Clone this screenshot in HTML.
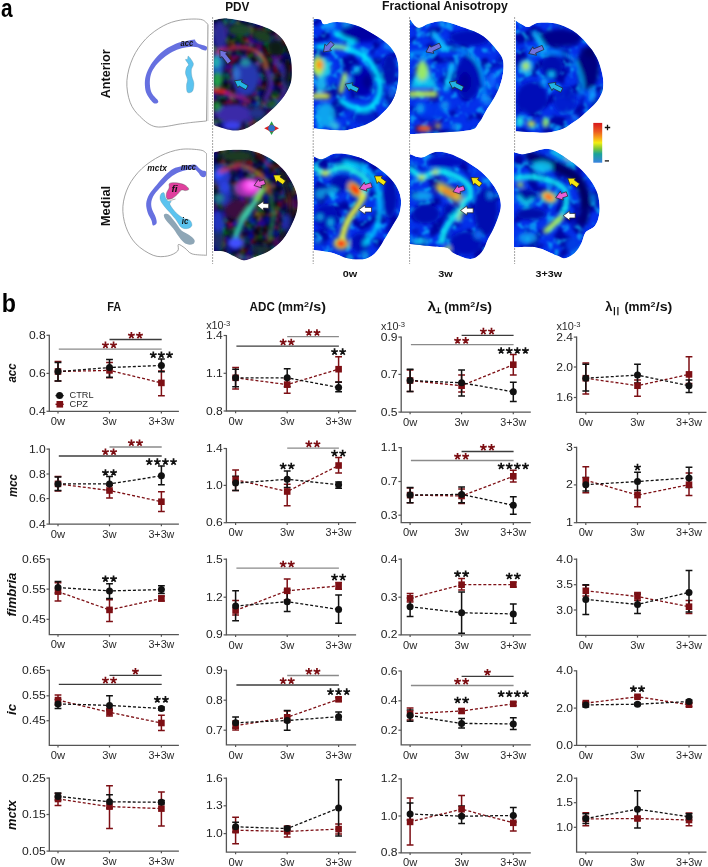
<!DOCTYPE html>
<html><head><meta charset="utf-8"><style>
html,body{margin:0;padding:0;background:#fff;width:708px;height:867px;overflow:hidden}
svg{display:block;position:absolute;left:0;top:0;will-change:transform}
</style></head><body>
<svg width="708" height="867" viewBox="0 0 708 867" font-family="Liberation Sans, sans-serif">
<defs><filter id="texc" x="0" y="0" width="100%" height="100%" color-interpolation-filters="sRGB"><feTurbulence type="fractalNoise" baseFrequency="0.13" numOctaves="3" seed="7"/><feColorMatrix type="matrix" values="0 0 0 0 0.05  0 0 0 0 0.82  0 0 0 0 1  6 0 0 0 -3.2"/><feGaussianBlur stdDeviation="0.9"/></filter><filter id="texd" x="0" y="0" width="100%" height="100%" color-interpolation-filters="sRGB"><feTurbulence type="fractalNoise" baseFrequency="0.07" numOctaves="2" seed="21"/><feColorMatrix type="matrix" values="0 0 0 0 0  0 0 0 0 0  0 0 0 0 0.6  6 0 0 0 -3.0"/><feGaussianBlur stdDeviation="1.5"/></filter><filter id="texp" x="0" y="0" width="100%" height="100%" color-interpolation-filters="sRGB"><feTurbulence type="fractalNoise" baseFrequency="0.11" numOctaves="2" seed="5"/><feColorMatrix type="matrix" values="2.2 0 0 0 -0.95  0 2.2 0 0 -0.95  0 0 2.4 0 -0.8  0 0 0 0 1"/><feGaussianBlur stdDeviation="1.1"/></filter><filter id="bl1_5" x="-20%" y="-20%" width="140%" height="140%"><feGaussianBlur stdDeviation="1.5"/></filter><filter id="bl1_6" x="-20%" y="-20%" width="140%" height="140%"><feGaussianBlur stdDeviation="1.6"/></filter><filter id="bl1_7" x="-20%" y="-20%" width="140%" height="140%"><feGaussianBlur stdDeviation="1.7"/></filter><filter id="bl1_8" x="-20%" y="-20%" width="140%" height="140%"><feGaussianBlur stdDeviation="1.8"/></filter><filter id="bl2_0" x="-20%" y="-20%" width="140%" height="140%"><feGaussianBlur stdDeviation="2.0"/></filter><filter id="bl2_2" x="-20%" y="-20%" width="140%" height="140%"><feGaussianBlur stdDeviation="2.2"/></filter><filter id="bl2_5" x="-20%" y="-20%" width="140%" height="140%"><feGaussianBlur stdDeviation="2.5"/></filter><filter id="bl3_0" x="-20%" y="-20%" width="140%" height="140%"><feGaussianBlur stdDeviation="3.0"/></filter><clipPath id="pa"><path d="M213.8 20.2C216.08 19.9 221.85 18.1 227.5 18.4C233.15 18.7 241.95 20.73 247.7 22C253.45 23.27 257.78 24.5 262 26C266.22 27.5 269.75 29 273 31C276.25 33 279.17 35.33 281.5 38C283.83 40.67 285.5 43.83 287 47C288.5 50.17 289.7 53.5 290.5 57C291.3 60.5 291.73 63.73 291.8 68C291.87 72.27 292.12 78.02 290.9 82.6C289.68 87.18 287.42 91.22 284.5 95.5C281.58 99.78 277.38 104.32 273.4 108.3C269.42 112.28 265.18 116.03 260.6 119.4C256.02 122.77 250.5 126.67 245.9 128.5C241.3 130.33 237.58 130.7 233 130.4C228.42 130.1 221.6 127.62 218.4 126.7C215.2 125.78 214.57 125.2 213.8 124.9Z"/></clipPath><clipPath id="pm"><path d="M214 152.4C216.38 152.02 222.03 150.35 228.3 150.1C234.57 149.85 244.6 149.48 251.6 150.9C258.6 152.32 264.6 154.98 270.3 158.6C276 162.22 281.53 167.15 285.8 172.6C290.07 178.05 293.97 185.33 295.9 191.3C297.83 197.27 298.05 202.97 297.4 208.4C296.75 213.83 294.45 218.73 292 223.9C289.55 229.07 286.32 235 282.7 239.4C279.08 243.8 274.7 247.45 270.3 250.3C265.9 253.15 260.72 254.82 256.3 256.5C251.88 258.18 247.68 260.52 243.8 260.4C239.92 260.28 236.37 257.27 233 255.8C229.63 254.33 226.77 252.38 223.6 251.6C220.43 250.82 215.6 251.18 214 251.1Z"/></clipPath><clipPath id="fa1"><path d="M313.7 19C314.83 19.12 318.75 18.83 320.5 19.7C322.25 20.57 321.45 23.82 324.2 24.2C326.95 24.58 331.87 21.87 337 22C342.13 22.13 349 23 355 25C361 27 367.5 30.75 373 34C378.5 37.25 384.13 40.75 388 44.5C391.87 48.25 394.45 52.25 396.2 56.5C397.95 60.75 398.37 64.75 398.5 70C398.63 75.25 398.25 82.5 397 88C395.75 93.5 393.75 98.5 391 103C388.25 107.5 384.5 111.5 380.5 115C376.5 118.5 372.5 121.5 367 124C361.5 126.5 353.25 129 347.5 130C341.75 131 338.13 130.27 332.5 130C326.87 129.73 316.83 128.67 313.7 128.4Z"/></clipPath><clipPath id="fa2"><path d="M410 19.3C411.33 20.72 414.78 27.1 418 27.8C421.22 28.5 425.05 24.57 429.3 23.5C433.55 22.43 437.6 20.68 443.5 21.4C449.4 22.12 458.08 25.32 464.7 27.8C471.32 30.28 477.98 32.77 483.2 36.3C488.42 39.83 492.7 44.98 496 49C499.3 53.02 501.95 55.67 503 60.4C504.05 65.13 503.47 71.73 502.3 77.4C501.13 83.07 498.48 89.2 496 94.4C493.52 99.6 490.23 103.87 487.4 108.6C484.57 113.33 481.83 119.23 479 122.8C476.17 126.37 477.5 128.35 470.4 130C463.3 131.65 446.47 132.02 436.4 132.7C426.33 133.38 414.4 133.87 410 134.1Z"/></clipPath><clipPath id="fa3"><path d="M515.8 20.7C517 21.42 520.87 23.95 523 25C525.13 26.05 526.02 27.37 528.6 27C531.18 26.63 534 23.38 538.5 22.8C543 22.22 549.92 22.2 555.6 23.5C561.28 24.8 567.4 27.28 572.6 30.6C577.8 33.92 582.78 38.9 586.8 43.4C590.82 47.9 594.1 52.4 596.7 57.6C599.3 62.8 601.35 69.4 602.4 74.6C603.45 79.8 603.73 84.57 603 88.8C602.27 93.03 600.7 96.22 598 100C595.3 103.78 591.03 107.7 586.8 111.5C582.57 115.3 577.1 119.72 572.6 122.8C568.1 125.88 565 128.35 559.8 130C554.6 131.65 548.73 132.48 541.4 132.7C534.07 132.92 520.07 131.53 515.8 131.3Z"/></clipPath><clipPath id="fm1"><path d="M314 156.6C315 157.05 318.12 159.07 320 159.3C321.88 159.53 323.1 158.88 325.3 158C327.5 157.12 329.9 154.67 333.2 154C336.5 153.33 340.9 153.45 345.1 154C349.3 154.55 353.97 155.65 358.4 157.3C362.83 158.95 367.27 161.25 371.7 163.9C376.13 166.55 381.03 169.67 385 173.2C388.97 176.73 392.87 180.9 395.5 185.1C398.13 189.3 400.13 193.75 400.8 198.4C401.47 203.05 400.82 208.58 399.5 213C398.18 217.42 395.55 220.27 392.9 224.9C390.25 229.53 386.7 235.95 383.6 240.8C380.5 245.65 377.83 250.9 374.3 254C370.77 257.1 367.03 258.73 362.4 259.4C357.77 260.07 351.58 259.12 346.5 258C341.42 256.88 337.32 254.03 331.9 252.7C326.48 251.37 316.98 250.45 314 250Z"/></clipPath><clipPath id="fm2"><path d="M410 154.2C411.25 154.65 415.12 156.45 417.5 156.9C419.88 157.35 421.35 157.7 424.3 156.9C427.25 156.1 431.12 152.67 435.2 152.1C439.28 151.53 443.8 152.02 448.8 153.5C453.8 154.98 459.75 157.93 465.2 161C470.65 164.07 476.97 168.05 481.5 171.9C486.03 175.75 489.45 180.02 492.4 184.1C495.35 188.18 497.83 192.32 499.2 196.4C500.57 200.48 501.28 203.83 500.6 208.6C499.92 213.37 497.15 220 495.1 225C493.05 230 490.57 234.07 488.3 238.6C486.03 243.13 484.45 248.8 481.5 252.2C478.55 255.6 475.13 258.78 470.6 259C466.07 259.22 458.15 255.32 454.3 253.5C450.45 251.68 450.68 249.23 447.5 248.1C444.32 246.97 441.45 247.38 435.2 246.7C428.95 246.02 414.2 244.45 410 244Z"/></clipPath><clipPath id="fm3"><path d="M514 152.2C515.48 152.53 519.83 154.2 522.9 154.2C525.97 154.2 528.55 153.1 532.4 152.2C536.25 151.3 541.92 148.8 546 148.8C550.08 148.8 552.37 149.83 556.9 152.2C561.43 154.57 568.43 159.37 573.2 163C577.97 166.63 581.87 169.92 585.5 174C589.13 178.08 592.73 182.97 595 187.5C597.27 192.03 598.42 196.65 599.1 201.2C599.78 205.75 599.78 210.72 599.1 214.8C598.42 218.88 597.27 222.75 595 225.7C592.73 228.65 587.77 229.57 585.5 232.5C583.23 235.43 583.22 239.9 581.4 243.3C579.58 246.7 577.32 250.4 574.6 252.9C571.88 255.4 568.05 257.85 565.1 258.3C562.15 258.75 561.67 257.42 556.9 255.6C552.13 253.78 543.65 248.77 536.5 247.4C529.35 246.03 517.75 247.4 514 247.4Z"/></clipPath></defs>
<path d="M207.9 24.4C206.7 23.57 205.27 20.12 200.7 19.4C196.13 18.68 186.75 19.02 180.5 20.1C174.25 21.18 168.97 22.78 163.2 25.9C157.43 29.02 150.93 33.52 145.9 38.8C140.87 44.08 136.17 50.63 133 57.6C129.83 64.57 127.38 73.15 126.9 80.6C126.42 88.05 127.88 96.28 130.1 102.3C132.32 108.32 135.88 112.62 140.2 116.7C144.52 120.78 149.28 125.6 156 126.8C162.72 128 174.48 124.63 180.5 123.9C186.52 123.17 187.77 122.88 192.1 122.4C196.43 121.92 204.1 121.23 206.5 121Z" fill="#fff" stroke="#8c8c8c" stroke-width="0.8"/>
<path d="M207.9 24.4V121" stroke="#bdbdbd" stroke-width="0.8"/>
<path d="M194.4 39.4C192.92 39.4 189.3 40.32 186.5 40.9C183.7 41.48 180.73 41.75 177.6 42.9C174.47 44.05 170.83 45.83 167.7 47.8C164.57 49.77 161.6 51.9 158.8 54.7C156 57.5 153.05 61.13 150.9 64.6C148.75 68.07 146.9 72.03 145.9 75.5C144.9 78.97 144.73 82.27 144.9 85.4C145.07 88.53 145.42 91.33 146.9 94.3C148.38 97.27 151.9 102.05 153.8 103.2C155.7 104.35 158.62 102.85 158.3 101.2C157.98 99.55 153.3 96.1 151.9 93.3C150.5 90.5 150.07 87.53 149.9 84.4C149.73 81.27 149.92 77.63 150.9 74.5C151.88 71.37 153.67 68.4 155.8 65.6C157.93 62.8 160.9 60 163.7 57.7C166.5 55.4 169.63 53.37 172.6 51.8C175.57 50.23 178.37 49.13 181.5 48.3C184.63 47.47 188.75 46.97 191.4 46.8C194.05 46.63 195.58 46.8 197.4 47.3C199.22 47.8 200.82 49.3 202.3 49.8C203.78 50.3 205.55 50.8 206.3 50.3C207.05 49.8 207.3 47.63 206.8 46.8C206.3 45.97 204.7 45.8 203.3 45.3C201.9 44.8 199.72 44.53 198.4 43.8C197.08 43.07 196.07 41.63 195.4 40.9C194.73 40.17 195.88 39.4 194.4 39.4Z" fill="#6670e0"/>
<path d="M188.5 56.2C189.48 56.93 192.92 61.37 193.4 63.6C193.88 65.83 191.65 67.45 191.4 69.6C191.15 71.75 191.48 74.2 191.9 76.5C192.32 78.8 193.82 80.93 193.9 83.4C193.98 85.87 193.47 89.82 192.4 91.3C191.33 92.78 188.48 93.28 187.5 92.3C186.52 91.32 186.5 87.53 186.5 85.4C186.5 83.27 187.67 81.48 187.5 79.5C187.33 77.52 185.67 75.48 185.5 73.5C185.33 71.52 186 69.08 186.5 67.6C187 66.12 188.67 65.92 188.5 64.6C188.33 63.28 185.67 60.6 185.5 59.7C185.33 58.8 187 59.78 187.5 59.2C188 58.62 187.52 55.47 188.5 56.2Z" fill="#5bc3ef" stroke="#5a8aa0" stroke-width="0.3"/>
<text x="180.6" y="45.8" font-size="8.4" font-weight="bold" font-style="italic" fill="#111" textLength="12.8" lengthAdjust="spacingAndGlyphs">acc</text>
<path d="M206.5 153.7C205.53 153.1 205.03 150.82 200.7 150.1C196.37 149.38 187.22 148.43 180.5 149.4C173.78 150.37 166.88 152.67 160.4 155.9C153.92 159.13 146.9 163.77 141.6 168.8C136.3 173.83 131.72 179.85 128.6 186.1C125.48 192.35 123.37 199.57 122.9 206.3C122.43 213.03 123.63 220.25 125.8 226.5C127.97 232.75 131.33 239 135.9 243.8C140.47 248.6 147.92 253.27 153.2 255.3C158.48 257.33 163.52 256.72 167.6 256C171.68 255.28 175.9 252.92 177.7 251C179.5 249.08 177.2 244.98 178.4 244.5C179.6 244.02 182.62 246.53 184.9 248.1C187.18 249.67 188.5 252.7 192.1 253.9C195.7 255.1 204.1 255.07 206.5 255.3Z" fill="#fff" stroke="#8c8c8c" stroke-width="0.8"/>
<path d="M206.5 153.7V255.3" stroke="#bdbdbd" stroke-width="0.8"/>
<path d="M191.9 164.7C189.47 164.87 184.62 165.52 181.5 166.2C178.38 166.88 175.97 167.23 173.2 168.8C170.43 170.37 167.67 172.92 164.9 175.6C162.13 178.28 159.2 181.78 156.6 184.9C154 188.02 151.03 191.18 149.3 194.3C147.57 197.42 146.45 200.48 146.2 203.6C145.95 206.72 146.93 210.23 147.8 213C148.67 215.77 150.53 218.13 151.4 220.2C152.27 222.27 152.13 224.88 153 225.4C153.87 225.92 156.17 224.68 156.6 223.3C157.03 221.92 156.38 219.52 155.6 217.1C154.82 214.68 152.6 211.4 151.9 208.8C151.2 206.2 150.97 203.92 151.4 201.5C151.83 199.08 152.77 196.88 154.5 194.3C156.23 191.72 159.2 188.77 161.8 186C164.4 183.23 167.33 179.95 170.1 177.7C172.87 175.45 175.63 173.8 178.4 172.5C181.17 171.2 184.1 170.43 186.7 169.9C189.3 169.37 192.08 168.87 194 169.3C195.92 169.73 196.98 171.28 198.2 172.5C199.42 173.72 200.1 175.92 201.3 176.6C202.5 177.28 204.63 177.47 205.4 176.6C206.17 175.73 206.42 172.43 205.9 171.4C205.38 170.37 203.42 170.92 202.3 170.4C201.18 169.88 200.23 169.17 199.2 168.3C198.17 167.43 197.32 165.8 196.1 165.2C194.88 164.6 194.33 164.53 191.9 164.7Z" fill="#6670e0"/>
<path d="M164.9 214C165.77 213.82 167.37 213.62 169.1 215C170.83 216.38 173.23 219.7 175.3 222.3C177.37 224.9 179.25 228.52 181.5 230.6C183.75 232.68 186.63 233.23 188.8 234.8C190.97 236.37 193.8 238.45 194.5 240C195.2 241.55 194.3 243.42 193 244.1C191.7 244.78 188.78 244.97 186.7 244.1C184.62 243.23 182.75 241.5 180.5 238.9C178.25 236.3 175.62 231.62 173.2 228.5C170.78 225.38 167.55 222.27 166 220.2C164.45 218.13 164.08 217.13 163.9 216.1C163.72 215.07 164.03 214.18 164.9 214Z" fill="#8ea6b6"/>
<path d="M160.8 194.3C161.42 193.17 163.13 192.18 163.9 192.7C164.67 193.22 164.72 196.02 165.4 197.4C166.08 198.78 167.03 200.32 168 201C168.97 201.68 170.85 200.88 171.2 201.5C171.55 202.12 169.25 202.78 170.1 204.7C170.95 206.62 174.05 210.75 176.3 213C178.55 215.25 181.35 217 183.6 218.2C185.85 219.4 188.42 219 189.8 220.2C191.18 221.4 192.23 224.02 191.9 225.4C191.57 226.78 189.53 228.15 187.8 228.5C186.07 228.85 183.42 228.88 181.5 227.5C179.58 226.12 178.02 222.45 176.3 220.2C174.58 217.95 173.27 216.42 171.2 214C169.13 211.58 165.73 208.12 163.9 205.7C162.07 203.28 160.72 201.4 160.2 199.5C159.68 197.6 160.18 195.43 160.8 194.3Z" fill="#5bc3ef" stroke="#5a8aa0" stroke-width="0.3"/>
<path d="M169.6 183.4C170.8 182.53 173.78 182.55 176.3 182.8C178.82 183.05 182.62 183.85 184.7 184.9C186.78 185.95 188.63 188.15 188.8 189.1C188.97 190.05 186.92 190.43 185.7 190.6C184.48 190.77 182.88 189.48 181.5 190.1C180.12 190.72 178.95 192.92 177.4 194.3C175.85 195.68 173.93 197.72 172.2 198.4C170.47 199.08 167.95 199.27 167 198.4C166.05 197.53 166.15 194.93 166.5 193.2C166.85 191.47 168.58 189.63 169.1 188C169.62 186.37 168.4 184.27 169.6 183.4Z" fill="#e0409e" stroke="#555" stroke-width="0.4"/>
<path d="M166.5 199.2 Q171 201.5 175.5 199" stroke="#666" stroke-width="0.5" fill="none"/>
<text x="147.3" y="171.4" font-size="8.8" font-weight="bold" font-style="italic" fill="#111" textLength="19.6" lengthAdjust="spacingAndGlyphs">mctx</text>
<text x="181" y="170.4" font-size="8.8" font-weight="bold" font-style="italic" fill="#111" textLength="15" lengthAdjust="spacingAndGlyphs">mcc</text>
<text x="171.4" y="192.2" font-size="9.5" font-weight="bold" font-style="italic" fill="#111" textLength="6.2" lengthAdjust="spacingAndGlyphs">fi</text>
<text x="181.8" y="223.9" font-size="9" font-weight="bold" font-style="italic" fill="#111" textLength="6.6" lengthAdjust="spacingAndGlyphs">ic</text>
<path d="M212.6 17V138.5" stroke="#9a9a9a" stroke-width="0.9" stroke-dasharray="2 1"/>
<path d="M212.6 140V264" stroke="#9a9a9a" stroke-width="0.9" stroke-dasharray="2 1"/>
<path d="M313.2 17V138.5" stroke="#9a9a9a" stroke-width="0.9" stroke-dasharray="2 1"/>
<path d="M313.2 140V264" stroke="#9a9a9a" stroke-width="0.9" stroke-dasharray="2 1"/>
<path d="M409.6 17V138.5" stroke="#9a9a9a" stroke-width="0.9" stroke-dasharray="2 1"/>
<path d="M409.6 140V264" stroke="#9a9a9a" stroke-width="0.9" stroke-dasharray="2 1"/>
<path d="M514.6 17V138.5" stroke="#9a9a9a" stroke-width="0.9" stroke-dasharray="2 1"/>
<path d="M514.6 140V264" stroke="#9a9a9a" stroke-width="0.9" stroke-dasharray="2 1"/>
<g clip-path="url(#pa)">
<path d="M213.8 20.2C216.08 19.9 221.85 18.1 227.5 18.4C233.15 18.7 241.95 20.73 247.7 22C253.45 23.27 257.78 24.5 262 26C266.22 27.5 269.75 29 273 31C276.25 33 279.17 35.33 281.5 38C283.83 40.67 285.5 43.83 287 47C288.5 50.17 289.7 53.5 290.5 57C291.3 60.5 291.73 63.73 291.8 68C291.87 72.27 292.12 78.02 290.9 82.6C289.68 87.18 287.42 91.22 284.5 95.5C281.58 99.78 277.38 104.32 273.4 108.3C269.42 112.28 265.18 116.03 260.6 119.4C256.02 122.77 250.5 126.67 245.9 128.5C241.3 130.33 237.58 130.7 233 130.4C228.42 130.1 221.6 127.62 218.4 126.7C215.2 125.78 214.57 125.2 213.8 124.9Z" fill="#0e0c2c"/>
<rect x="213.8" y="18.4" width="78" height="112" filter="url(#texp)" opacity="0.45"/>
<g filter="url(#bl2_0)">
<ellipse cx="220" cy="35" rx="7" ry="14" fill="#2a2a98" opacity="1" transform="rotate(0 220 35)"/>
<ellipse cx="240" cy="30" rx="12" ry="6" fill="#1a4a2a" opacity="1" transform="rotate(0 240 30)"/>
<ellipse cx="262" cy="36" rx="10" ry="6" fill="#1a4024" opacity="1" transform="rotate(20 262 36)"/>
<ellipse cx="276" cy="48" rx="8" ry="8" fill="#101a18" opacity="1" transform="rotate(0 276 48)"/>
<ellipse cx="218" cy="65" rx="6" ry="16" fill="#2050c0" opacity="1" transform="rotate(0 218 65)"/>
<ellipse cx="216" cy="62" rx="4" ry="6" fill="#20b0b0" opacity="1" transform="rotate(0 216 62)"/>
<ellipse cx="217.4" cy="80" rx="5" ry="8" fill="#20a048" opacity="1" transform="rotate(0 217.4 80)"/>
<ellipse cx="246" cy="78" rx="13" ry="18" fill="#2838b0" opacity="1" transform="rotate(0 246 78)"/>
<ellipse cx="245.4" cy="62" rx="5" ry="4" fill="#2090a0" opacity="1" transform="rotate(0 245.4 62)"/>
<ellipse cx="236" cy="74" rx="4" ry="7" fill="#3070d0" opacity="1" transform="rotate(0 236 74)"/>
<path d="M217 52C220.17 51.25 230.23 48 236 47.5C241.77 47 247.18 47.48 251.6 49C256.02 50.52 259.93 53.77 262.5 56.6C265.07 59.43 266.25 64.43 267 66" stroke="#d83040" stroke-width="3.0" fill="none" opacity="1" stroke-linecap="round"/>
<path d="M256 52C257.33 53.33 262 57 264 60C266 63 267.33 68.33 268 70" stroke="#d0a040" stroke-width="2.2" fill="none" opacity="0.8" stroke-linecap="round"/>
<path d="M268 70C268.5 72.33 271.33 79 271 84C270.67 89 266.83 97.33 266 100" stroke="#5a30c0" stroke-width="3.2" fill="none" opacity="1" stroke-linecap="round"/>
<path d="M276 60C277.5 62.67 283.67 70.33 285 76C286.33 81.67 285.83 88.67 284 94C282.17 99.33 275.67 105.67 274 108" stroke="#3a2ab0" stroke-width="4.0" fill="none" opacity="1" stroke-linecap="round"/>
<path d="M262 66C263 69 268 78.33 268 84C268 89.67 263 97.33 262 100" stroke="#0a0a20" stroke-width="4.0" fill="none" opacity="1" stroke-linecap="round"/>
<path d="M213.5 91C215.58 91.17 223.92 91.83 226 92" stroke="#e82020" stroke-width="4.5" fill="none" opacity="1" stroke-linecap="round"/>
<path d="M226 93C228 93.67 234.17 95.67 238 97C241.83 98.33 247.17 100.33 249 101" stroke="#b02080" stroke-width="3.2" fill="none" opacity="1" stroke-linecap="round"/>
<ellipse cx="234" cy="114" rx="18" ry="10" fill="#3a2aa8" opacity="1" transform="rotate(0 234 114)"/>
<ellipse cx="232" cy="126" rx="10" ry="4" fill="#3a40f0" opacity="1" transform="rotate(0 232 126)"/>
<ellipse cx="217" cy="106" rx="4" ry="5" fill="#209040" opacity="1" transform="rotate(0 217 106)"/>
<ellipse cx="272" cy="104" rx="6" ry="4" fill="#1a5a28" opacity="1" transform="rotate(0 272 104)"/>
<ellipse cx="257" cy="113" rx="8" ry="6" fill="#20308a" opacity="1" transform="rotate(0 257 113)"/>
<ellipse cx="287" cy="72" rx="3" ry="16" fill="#0a0a18" opacity="1" transform="rotate(0 287 72)"/>
</g></g>
<polygon points="219.8,50 220.15,57.96 221.97,56.55 227.68,63.91 231.32,61.09 225.6,53.73 227.42,52.32" fill="#6f72de" stroke="#222" stroke-width="0.7" stroke-linejoin="miter"/>
<polygon points="234.5,80.7 237.92,87.89 239.05,85.88 245.88,89.71 248.12,85.69 241.3,81.87 242.42,79.86" fill="#22b4e6" stroke="#222" stroke-width="0.7" stroke-linejoin="miter"/>
<polygon points="271.6,121.3 275.4,128.3 271.6,135 267.8,128.3" fill="#1fa04a"/>
<polygon points="264.2,128.3 271.6,124.4 279,128.3 271.6,132.2" fill="#d82222"/>
<circle cx="271.6" cy="128.3" r="3.3" fill="#2b72c8"/>
<g clip-path="url(#pm)">
<path d="M214 152.4C216.38 152.02 222.03 150.35 228.3 150.1C234.57 149.85 244.6 149.48 251.6 150.9C258.6 152.32 264.6 154.98 270.3 158.6C276 162.22 281.53 167.15 285.8 172.6C290.07 178.05 293.97 185.33 295.9 191.3C297.83 197.27 298.05 202.97 297.4 208.4C296.75 213.83 294.45 218.73 292 223.9C289.55 229.07 286.32 235 282.7 239.4C279.08 243.8 274.7 247.45 270.3 250.3C265.9 253.15 260.72 254.82 256.3 256.5C251.88 258.18 247.68 260.52 243.8 260.4C239.92 260.28 236.37 257.27 233 255.8C229.63 254.33 226.77 252.38 223.6 251.6C220.43 250.82 215.6 251.18 214 251.1Z" fill="#0e0c2c"/>
<rect x="214" y="150.1" width="83.4" height="110.3" filter="url(#texp)" opacity="0.45"/>
<g filter="url(#bl2_0)">
<ellipse cx="237" cy="156" rx="16" ry="6" fill="#1a3a22" opacity="1" transform="rotate(0 237 156)"/>
<ellipse cx="222" cy="176" rx="9" ry="10" fill="#2638c8" opacity="1" transform="rotate(0 222 176)"/>
<ellipse cx="228" cy="200" rx="8" ry="9" fill="#2030b0" opacity="1" transform="rotate(0 228 200)"/>
<ellipse cx="218" cy="222" rx="6" ry="12" fill="#2434c0" opacity="1" transform="rotate(0 218 222)"/>
<ellipse cx="234" cy="198" rx="4" ry="5" fill="#101a50" opacity="1" transform="rotate(0 234 198)"/>
<ellipse cx="218.6" cy="174" rx="5" ry="5" fill="#2a50ff" opacity="1" transform="rotate(0 218.6 174)"/>
<ellipse cx="225" cy="187.5" rx="6" ry="6" fill="#2a40e0" opacity="1" transform="rotate(0 225 187.5)"/>
<ellipse cx="218.6" cy="198" rx="5" ry="5" fill="#208090" opacity="1" transform="rotate(0 218.6 198)"/>
<ellipse cx="238" cy="187.5" rx="5" ry="5" fill="#2070a0" opacity="1" transform="rotate(0 238 187.5)"/>
<ellipse cx="237" cy="210" rx="13" ry="10" fill="#3a1040" opacity="1" transform="rotate(0 237 210)"/>
<path d="M220 171.7C223.05 170.58 233.05 165.45 238.3 165C243.55 164.55 247.98 167.45 251.5 169C255.02 170.55 256.98 172.13 259.4 174.3C261.82 176.47 264.23 178.93 266 182C267.77 185.07 269.33 190.92 270 192.7" stroke="#d04030" stroke-width="2.8" fill="none" opacity="1" stroke-linecap="round"/>
<path d="M250 168C251.57 169.05 256.73 171.97 259.4 174.3C262.07 176.63 264.9 180.72 266 182" stroke="#d0b040" stroke-width="2.0" fill="none" opacity="0.8" stroke-linecap="round"/>
<ellipse cx="248" cy="188" rx="13" ry="10" fill="#a030b0" opacity="1" transform="rotate(0 248 188)"/>
<ellipse cx="251" cy="186" rx="9" ry="7" fill="#f040e0" opacity="1" transform="rotate(0 251 186)"/>
<ellipse cx="252" cy="185" rx="5" ry="4" fill="#ff70ff" opacity="1" transform="rotate(0 252 185)"/>
<path d="M263 190C261.08 192.83 254.95 201.93 251.5 207C248.05 212.07 244.93 215.57 242.3 220.4C239.67 225.23 236.8 233.4 235.7 236" stroke="#30c8a8" stroke-width="5.5" fill="none" opacity="1" stroke-linecap="round"/>
<path d="M262 192C260.33 194.33 255 201.67 252 206C249 210.33 245.33 216 244 218" stroke="#50e0b0" stroke-width="2.5" fill="none" opacity="1" stroke-linecap="round"/>
<path d="M264 189C262.83 190.67 258.17 197.33 257 199" stroke="#80e040" stroke-width="4.0" fill="none" opacity="1" stroke-linecap="round"/>
<path d="M270 194C270.5 197.5 273 207.33 273 215C273 222.67 270.5 235.83 270 240" stroke="#208040" stroke-width="3.5" fill="none" opacity="0.9" stroke-linecap="round"/>
<ellipse cx="235.7" cy="243" rx="8" ry="6" fill="#4050ff" opacity="1" transform="rotate(0 235.7 243)"/>
<path d="M282 172C283.33 176.67 289 191.17 290 200C291 208.83 289.67 218.33 288 225C286.33 231.67 281.33 237.5 280 240" stroke="#141428" stroke-width="6.0" fill="none" opacity="1" stroke-linecap="round"/>
<ellipse cx="289.6" cy="200.6" rx="2" ry="8" fill="#6a1a20" opacity="0.8" transform="rotate(0 289.6 200.6)"/>
<ellipse cx="286" cy="222" rx="4" ry="8" fill="#2030c0" opacity="0.8" transform="rotate(0 286 222)"/>
<ellipse cx="260" cy="250" rx="10" ry="5" fill="#1a3030" opacity="0.8" transform="rotate(0 260 250)"/>
<ellipse cx="218" cy="240" rx="6" ry="10" fill="#1a3070" opacity="0.9" transform="rotate(0 218 240)"/>
</g></g>
<polygon points="254,185.5 261.6,187.87 260.89,185.68 265.51,184.19 264.09,179.81 259.47,181.31 258.77,179.12" fill="#e95fd6" stroke="#222" stroke-width="0.7" stroke-linejoin="miter"/>
<polygon points="273.4,175 276.02,182.52 277.36,180.65 282.86,184.57 285.54,180.83 280.03,176.9 281.36,175.03" fill="#f5e60f" stroke="#222" stroke-width="0.7" stroke-linejoin="miter"/>
<polygon points="257,205.6 263.34,210.42 263.42,208.12 268.62,208.3 268.78,203.7 263.57,203.52 263.65,201.22" fill="#ffffff" stroke="#222" stroke-width="0.7" stroke-linejoin="miter"/>
<g clip-path="url(#fa1)">
<path d="M313.7 19C314.83 19.12 318.75 18.83 320.5 19.7C322.25 20.57 321.45 23.82 324.2 24.2C326.95 24.58 331.87 21.87 337 22C342.13 22.13 349 23 355 25C361 27 367.5 30.75 373 34C378.5 37.25 384.13 40.75 388 44.5C391.87 48.25 394.45 52.25 396.2 56.5C397.95 60.75 398.37 64.75 398.5 70C398.63 75.25 398.25 82.5 397 88C395.75 93.5 393.75 98.5 391 103C388.25 107.5 384.5 111.5 380.5 115C376.5 118.5 372.5 121.5 367 124C361.5 126.5 353.25 129 347.5 130C341.75 131 338.13 130.27 332.5 130C326.87 129.73 316.83 128.67 313.7 128.4Z" fill="#0430ea"/>
<rect x="313.7" y="19" width="84.8" height="111" filter="url(#texd)" opacity="0.9"/>
<rect x="313.7" y="19" width="84.8" height="111" filter="url(#texc)" opacity="0.6"/>
<g filter="url(#bl2_2)">
<ellipse cx="330" cy="25" rx="6" ry="5" fill="#10a0ff" opacity="0.9" transform="rotate(0 330 25)"/>
<ellipse cx="346" cy="24" rx="5" ry="4" fill="#10b0ff" opacity="0.8" transform="rotate(0 346 24)"/>
<ellipse cx="365" cy="35" rx="16" ry="8" fill="#0008b8" opacity="1" transform="rotate(0 365 35)"/>
<path d="M335.5 33C338.5 34.62 350.5 41.08 353.5 42.7" stroke="#00e8ff" stroke-width="5.25" fill="none" opacity="1" stroke-linecap="round"/>
<path d="M318 47C319.77 46.97 324.98 46.83 328.6 46.8C332.22 46.77 335.55 46.1 339.7 46.8C343.85 47.5 349.35 49.38 353.5 51C357.65 52.62 361.35 53.97 364.6 56.5C367.85 59.03 370.68 62.73 373 66.2C375.32 69.67 377.37 72.92 378.5 77.3C379.63 81.68 380.5 88.12 379.8 92.5C379.1 96.88 376.83 100.82 374.3 103.6C371.77 106.38 368.52 108.73 364.6 109.2C360.68 109.67 354.73 107.8 350.8 106.4C346.87 105 342.63 101.73 341 100.8" stroke="#00f0ff" stroke-width="5.1" fill="none" opacity="1" stroke-linecap="round"/>
<path d="M332 46.5C334.17 46.67 342.83 47.33 345 47.5" stroke="#c8f040" stroke-width="3.75" fill="none" opacity="0.8" stroke-linecap="round"/>
<ellipse cx="362" cy="82" rx="11" ry="15" fill="#0000b0" opacity="1" transform="rotate(0 362 82)"/>
<ellipse cx="367.4" cy="81.5" rx="5" ry="7" fill="#000090" opacity="1" transform="rotate(0 367.4 81.5)"/>
<ellipse cx="356.3" cy="69" rx="3" ry="3" fill="#10d0ff" opacity="1" transform="rotate(0 356.3 69)"/>
<ellipse cx="349.4" cy="80" rx="2.5" ry="3" fill="#10c0ff" opacity="0.8" transform="rotate(0 349.4 80)"/>
<path d="M345.2 74.5C344.5 77.28 341.7 88.42 341 91.2" stroke="#b8f050" stroke-width="4.5" fill="none" opacity="1" stroke-linecap="round"/>
<ellipse cx="322" cy="68" rx="9" ry="11" fill="#20d8e0" opacity="0.85" transform="rotate(0 322 68)"/>
<ellipse cx="318" cy="66" rx="6" ry="10" fill="#b0f050" opacity="1" transform="rotate(0 318 66)"/>
<ellipse cx="319.5" cy="64.8" rx="3.5" ry="5" fill="#ff8a00" opacity="1" transform="rotate(0 319.5 64.8)"/>
<ellipse cx="321" cy="85" rx="6" ry="8" fill="#20d0f0" opacity="0.8" transform="rotate(0 321 85)"/>
<path d="M314 96C316.25 96 325.25 96 327.5 96" stroke="#d8f040" stroke-width="5.25" fill="none" opacity="1" stroke-linecap="round"/>
<ellipse cx="326" cy="115" rx="10" ry="12" fill="#10c0f0" opacity="0.8" transform="rotate(0 326 115)"/>
<ellipse cx="335" cy="126" rx="5" ry="4" fill="#40e0e0" opacity="0.8" transform="rotate(0 335 126)"/>
<ellipse cx="389.5" cy="70.4" rx="7" ry="16" fill="#0008a8" opacity="0.9" transform="rotate(0 389.5 70.4)"/>
<ellipse cx="362" cy="32" rx="22" ry="8" fill="#0000a0" opacity="0.9" transform="rotate(0 362 32)"/>
<ellipse cx="392" cy="100" rx="6" ry="8" fill="#0010b0" opacity="0.8" transform="rotate(0 392 100)"/>
<ellipse cx="366" cy="118" rx="12" ry="7" fill="#0018c0" opacity="0.8" transform="rotate(0 366 118)"/>
<ellipse cx="388" cy="45" rx="5" ry="4" fill="#10a0ff" opacity="0.6" transform="rotate(0 388 45)"/>
<ellipse cx="392" cy="92" rx="4" ry="6" fill="#1080ff" opacity="0.7" transform="rotate(0 392 92)"/>
</g></g>
<polygon points="323.5,52 331.35,50.66 329.72,49.03 334.13,44.63 330.87,41.37 326.47,45.78 324.84,44.15" fill="#6f72de" stroke="#222" stroke-width="0.7" stroke-linejoin="miter"/>
<polygon points="345.2,84.2 349.13,91.12 350.11,89.04 357.02,92.28 358.98,88.12 352.06,84.88 353.04,82.79" fill="#22b4e6" stroke="#222" stroke-width="0.7" stroke-linejoin="miter"/>
<g clip-path="url(#fa2)">
<path d="M410 19.3C411.33 20.72 414.78 27.1 418 27.8C421.22 28.5 425.05 24.57 429.3 23.5C433.55 22.43 437.6 20.68 443.5 21.4C449.4 22.12 458.08 25.32 464.7 27.8C471.32 30.28 477.98 32.77 483.2 36.3C488.42 39.83 492.7 44.98 496 49C499.3 53.02 501.95 55.67 503 60.4C504.05 65.13 503.47 71.73 502.3 77.4C501.13 83.07 498.48 89.2 496 94.4C493.52 99.6 490.23 103.87 487.4 108.6C484.57 113.33 481.83 119.23 479 122.8C476.17 126.37 477.5 128.35 470.4 130C463.3 131.65 446.47 132.02 436.4 132.7C426.33 133.38 414.4 133.87 410 134.1Z" fill="#0430ea"/>
<rect x="410" y="19.3" width="93" height="114.8" filter="url(#texd)" opacity="0.9"/>
<rect x="410" y="19.3" width="93" height="114.8" filter="url(#texc)" opacity="0.6"/>
<g filter="url(#bl2_2)">
<ellipse cx="470" cy="38" rx="20" ry="8" fill="#0008b8" opacity="1" transform="rotate(0 470 38)"/>
<ellipse cx="468" cy="78" rx="13" ry="22" fill="#0008b8" opacity="1" transform="rotate(0 468 78)"/>
<ellipse cx="465" cy="82" rx="6" ry="10" fill="#00009c" opacity="1" transform="rotate(0 465 82)"/>
<path d="M410.8 53.3C413.4 53.07 420.95 52.62 426.4 51.9C431.85 51.18 438.77 49.48 443.5 49C448.23 48.52 450.78 48.28 454.8 49C458.82 49.72 464.07 51.4 467.6 53.3C471.13 55.2 473.63 57.33 476 60.4C478.37 63.47 480.37 67.43 481.8 71.7C483.23 75.97 484.57 81.28 484.6 86C484.63 90.72 482.43 97.67 482 100" stroke="#10c0ff" stroke-width="2.55" fill="none" opacity="1" stroke-linecap="round"/>
<path d="M433.5 33.4C435.4 35.77 443 45.23 444.9 47.6" stroke="#10c8ff" stroke-width="5.25" fill="none" opacity="1" stroke-linecap="round"/>
<ellipse cx="442" cy="23.5" rx="3" ry="2.5" fill="#10c8ff" opacity="1" transform="rotate(0 442 23.5)"/>
<polygon points="410,88 422,55 438,88" fill="#10d8f0" opacity="0.85"/>
<ellipse cx="422.2" cy="71" rx="6" ry="10" fill="#b0f050" opacity="0.85" transform="rotate(0 422.2 71)"/>
<path d="M410.8 94C414.83 94 430.97 94 435 94" stroke="#c0f050" stroke-width="5.4" fill="none" opacity="1" stroke-linecap="round"/>
<path d="M452 64.6C451.05 68.63 447.25 84.77 446.3 88.8" stroke="#10d0ff" stroke-width="5.25" fill="none" opacity="1" stroke-linecap="round"/>
<ellipse cx="430" cy="112" rx="14" ry="10" fill="#0038f0" opacity="0.8" transform="rotate(0 430 112)"/>
<ellipse cx="420" cy="108" rx="4" ry="5" fill="#10b0f0" opacity="0.8" transform="rotate(0 420 108)"/>
<ellipse cx="445" cy="105" rx="4" ry="4" fill="#10b0f0" opacity="0.8" transform="rotate(0 445 105)"/>
<ellipse cx="424" cy="128.5" rx="8" ry="3" fill="#ff5010" opacity="1" transform="rotate(0 424 128.5)"/>
<ellipse cx="438" cy="126" rx="3" ry="3" fill="#e0c030" opacity="0.8" transform="rotate(0 438 126)"/>
<ellipse cx="455" cy="127" rx="4" ry="3" fill="#10b0f0" opacity="0.7" transform="rotate(0 455 127)"/>
<ellipse cx="492" cy="80" rx="4" ry="8" fill="#1070ff" opacity="0.8" transform="rotate(0 492 80)"/>
<ellipse cx="487" cy="100" rx="4" ry="6" fill="#10a0ff" opacity="0.7" transform="rotate(0 487 100)"/>
<ellipse cx="500" cy="60" rx="3" ry="5" fill="#0010b0" opacity="0.8" transform="rotate(0 500 60)"/>
</g></g>
<polygon points="426,52 433.85,53.34 432.86,51.27 441.19,47.27 439.21,43.13 430.87,47.12 429.88,45.04" fill="#6f72de" stroke="#222" stroke-width="0.7" stroke-linejoin="miter"/>
<polygon points="449.2,82 452.98,89.01 454,86.95 461.68,90.76 463.72,86.64 456.04,82.83 457.07,80.77" fill="#22b4e6" stroke="#222" stroke-width="0.7" stroke-linejoin="miter"/>
<g clip-path="url(#fa3)">
<path d="M515.8 20.7C517 21.42 520.87 23.95 523 25C525.13 26.05 526.02 27.37 528.6 27C531.18 26.63 534 23.38 538.5 22.8C543 22.22 549.92 22.2 555.6 23.5C561.28 24.8 567.4 27.28 572.6 30.6C577.8 33.92 582.78 38.9 586.8 43.4C590.82 47.9 594.1 52.4 596.7 57.6C599.3 62.8 601.35 69.4 602.4 74.6C603.45 79.8 603.73 84.57 603 88.8C602.27 93.03 600.7 96.22 598 100C595.3 103.78 591.03 107.7 586.8 111.5C582.57 115.3 577.1 119.72 572.6 122.8C568.1 125.88 565 128.35 559.8 130C554.6 131.65 548.73 132.48 541.4 132.7C534.07 132.92 520.07 131.53 515.8 131.3Z" fill="#0430ea"/>
<rect x="515.8" y="20.7" width="87.2" height="112" filter="url(#texd)" opacity="0.9"/>
<rect x="515.8" y="20.7" width="87.2" height="112" filter="url(#texc)" opacity="0.6"/>
<g filter="url(#bl2_2)">
<ellipse cx="560" cy="38" rx="22" ry="9" fill="#00008c" opacity="1" transform="rotate(0 560 38)"/>
<ellipse cx="588" cy="68" rx="11" ry="22" fill="#000080" opacity="1" transform="rotate(0 588 68)"/>
<ellipse cx="590" cy="52" rx="6" ry="6" fill="#000070" opacity="1" transform="rotate(0 590 52)"/>
<ellipse cx="552" cy="67" rx="11" ry="12" fill="#0008b0" opacity="1" transform="rotate(0 552 67)"/>
<ellipse cx="532" cy="98" rx="16" ry="16" fill="#0010b8" opacity="1" transform="rotate(0 532 98)"/>
<ellipse cx="565" cy="100" rx="12" ry="14" fill="#0018c8" opacity="0.8" transform="rotate(0 565 100)"/>
<path d="M530 54.7C533.08 54.23 543.07 52.13 548.5 51.9C553.93 51.67 558.35 51.88 562.6 53.3C566.85 54.72 571.15 57.33 574 60.4C576.85 63.47 578.28 67.93 579.7 71.7C581.12 75.47 582.28 79.22 582.5 83C582.72 86.78 581.25 92.5 581 94.4" stroke="#10b0ff" stroke-width="2.7" fill="none" opacity="1" stroke-linecap="round"/>
<path d="M534.3 33.4C535.95 36 542.55 46.4 544.2 49" stroke="#10c0ff" stroke-width="5.25" fill="none" opacity="1" stroke-linecap="round"/>
<ellipse cx="526" cy="67" rx="8" ry="8" fill="#10c0f0" opacity="0.8" transform="rotate(0 526 67)"/>
<ellipse cx="525.8" cy="66" rx="3.5" ry="4" fill="#b0f050" opacity="1" transform="rotate(0 525.8 66)"/>
<ellipse cx="551.3" cy="74.6" rx="3" ry="3" fill="#10d0ff" opacity="1" transform="rotate(0 551.3 74.6)"/>
<ellipse cx="544.2" cy="81.7" rx="3" ry="3" fill="#10c0ff" opacity="1" transform="rotate(0 544.2 81.7)"/>
<ellipse cx="520" cy="121" rx="4" ry="5" fill="#20e0e0" opacity="1" transform="rotate(0 520 121)"/>
<ellipse cx="531.4" cy="124" rx="4" ry="3" fill="#d0f040" opacity="1" transform="rotate(0 531.4 124)"/>
<ellipse cx="545.6" cy="122.8" rx="3" ry="5" fill="#a0f060" opacity="1" transform="rotate(0 545.6 122.8)"/>
<ellipse cx="592" cy="95" rx="4" ry="8" fill="#10a0ff" opacity="0.8" transform="rotate(0 592 95)"/>
<ellipse cx="575" cy="118" rx="5" ry="4" fill="#1060ff" opacity="0.8" transform="rotate(0 575 118)"/>
</g></g>
<polygon points="528.7,53.5 536.47,55.23 535.58,53.11 543.89,49.62 542.11,45.38 533.8,48.86 532.91,46.74" fill="#6f72de" stroke="#222" stroke-width="0.7" stroke-linejoin="miter"/>
<polygon points="548.2,83.5 551.98,90.51 553,88.45 560.68,92.26 562.72,88.14 555.04,84.33 556.07,82.27" fill="#22b4e6" stroke="#222" stroke-width="0.7" stroke-linejoin="miter"/>
<g clip-path="url(#fm1)">
<path d="M314 156.6C315 157.05 318.12 159.07 320 159.3C321.88 159.53 323.1 158.88 325.3 158C327.5 157.12 329.9 154.67 333.2 154C336.5 153.33 340.9 153.45 345.1 154C349.3 154.55 353.97 155.65 358.4 157.3C362.83 158.95 367.27 161.25 371.7 163.9C376.13 166.55 381.03 169.67 385 173.2C388.97 176.73 392.87 180.9 395.5 185.1C398.13 189.3 400.13 193.75 400.8 198.4C401.47 203.05 400.82 208.58 399.5 213C398.18 217.42 395.55 220.27 392.9 224.9C390.25 229.53 386.7 235.95 383.6 240.8C380.5 245.65 377.83 250.9 374.3 254C370.77 257.1 367.03 258.73 362.4 259.4C357.77 260.07 351.58 259.12 346.5 258C341.42 256.88 337.32 254.03 331.9 252.7C326.48 251.37 316.98 250.45 314 250Z" fill="#0430ea"/>
<rect x="314" y="154" width="86.8" height="105.4" filter="url(#texd)" opacity="0.9"/>
<rect x="314" y="154" width="86.8" height="105.4" filter="url(#texc)" opacity="0.6"/>
<g filter="url(#bl2_2)">
<ellipse cx="348" cy="160" rx="20" ry="5" fill="#0008b8" opacity="1" transform="rotate(0 348 160)"/>
<ellipse cx="390" cy="197" rx="7" ry="22" fill="#0008b0" opacity="1" transform="rotate(0 390 197)"/>
<ellipse cx="342" cy="183" rx="12" ry="8" fill="#0008b0" opacity="1" transform="rotate(0 342 183)"/>
<ellipse cx="326" cy="217" rx="12" ry="13" fill="#0008b8" opacity="1" transform="rotate(0 326 217)"/>
<ellipse cx="360" cy="243" rx="10" ry="10" fill="#0010b8" opacity="1" transform="rotate(0 360 243)"/>
<path d="M314.7 167.9C316.47 168.78 322 172.98 325.3 173.2C328.6 173.42 331.2 170.08 334.5 169.2C337.8 168.32 341.57 167.45 345.1 167.9C348.63 168.35 352.6 170.35 355.7 171.9C358.8 173.45 361.7 175.43 363.7 177.2C365.7 178.97 367.48 180.08 367.7 182.5C367.92 184.92 366.12 188.62 365 191.7C363.88 194.78 362.55 198.12 361 201C359.45 203.88 357.68 206.12 355.7 209C353.72 211.88 350.87 215.22 349.1 218.3C347.33 221.38 346.2 224.2 345.1 227.5C344 230.8 342.93 236.33 342.5 238.1" stroke="#20f0e0" stroke-width="5.4" fill="none" opacity="1" stroke-linecap="round"/>
<path d="M364 196C362.62 198.17 358.18 205.28 355.7 209C353.22 212.72 350.87 215.22 349.1 218.3C347.33 221.38 346.2 224.55 345.1 227.5C344 230.45 342.93 234.58 342.5 236" stroke="#e8f030" stroke-width="5.4" fill="none" opacity="1" stroke-linecap="round"/>
<ellipse cx="325.3" cy="173.2" rx="4" ry="3" fill="#c8f040" opacity="1" transform="rotate(0 325.3 173.2)"/>
<path d="M345.1 162.6C348.42 163.7 359.92 166.12 365 169.2C370.08 172.28 373.38 176.9 375.6 181.1C377.82 185.3 377.63 189.97 378.3 194.4C378.97 198.83 379.6 203.27 379.6 207.7C379.6 212.13 379.4 216.58 378.3 221C377.2 225.42 375.22 230.45 373 234.2C370.78 237.95 366.33 241.95 365 243.5" stroke="#00d8ff" stroke-width="4.199999999999999" fill="none" opacity="1" stroke-linecap="round"/>
<ellipse cx="355.2" cy="189.5" rx="9" ry="6" fill="#f0f040" opacity="0.85" transform="rotate(50 355.2 189.5)"/>
<ellipse cx="355.2" cy="189.5" rx="7" ry="3.8" fill="#ff1800" opacity="1" transform="rotate(50 355.2 189.5)"/>
<ellipse cx="341.2" cy="243.5" rx="8" ry="6.5" fill="#e8f040" opacity="0.8" transform="rotate(0 341.2 243.5)"/>
<ellipse cx="341.2" cy="243.5" rx="5" ry="4" fill="#ff2010" opacity="1" transform="rotate(0 341.2 243.5)"/>
<ellipse cx="320" cy="194" rx="6" ry="6" fill="#10c0f0" opacity="0.7" transform="rotate(0 320 194)"/>
<ellipse cx="330" cy="190" rx="8" ry="3" fill="#10c8f0" opacity="0.7" transform="rotate(0 330 190)"/>
<ellipse cx="332" cy="194.4" rx="3" ry="3" fill="#10c8f0" opacity="1" transform="rotate(0 332 194.4)"/>
<ellipse cx="320" cy="217" rx="3" ry="3" fill="#10b8f0" opacity="0.9" transform="rotate(0 320 217)"/>
<ellipse cx="330.6" cy="222.2" rx="3" ry="4" fill="#10c0f0" opacity="0.9" transform="rotate(0 330.6 222.2)"/>
<ellipse cx="318" cy="240" rx="4" ry="4" fill="#10a0ff" opacity="0.8" transform="rotate(0 318 240)"/>
<ellipse cx="365" cy="255" rx="3" ry="3" fill="#10c0f0" opacity="0.8" transform="rotate(0 365 255)"/>
</g></g>
<polygon points="359.5,188.7 367.07,191.18 366.39,188.98 372.18,187.2 370.82,182.8 365.03,184.59 364.36,182.39" fill="#e95fd6" stroke="#222" stroke-width="0.7" stroke-linejoin="miter"/>
<polygon points="374.5,176 377.12,183.52 378.45,181.65 383.66,185.37 386.34,181.63 381.13,177.91 382.46,176.03" fill="#f5e60f" stroke="#222" stroke-width="0.7" stroke-linejoin="miter"/>
<polygon points="358.7,209.7 365.2,214.3 365.2,212 371.5,212 371.5,207.4 365.2,207.4 365.2,205.1" fill="#ffffff" stroke="#222" stroke-width="0.7" stroke-linejoin="miter"/>
<g clip-path="url(#fm2)">
<path d="M410 154.2C411.25 154.65 415.12 156.45 417.5 156.9C419.88 157.35 421.35 157.7 424.3 156.9C427.25 156.1 431.12 152.67 435.2 152.1C439.28 151.53 443.8 152.02 448.8 153.5C453.8 154.98 459.75 157.93 465.2 161C470.65 164.07 476.97 168.05 481.5 171.9C486.03 175.75 489.45 180.02 492.4 184.1C495.35 188.18 497.83 192.32 499.2 196.4C500.57 200.48 501.28 203.83 500.6 208.6C499.92 213.37 497.15 220 495.1 225C493.05 230 490.57 234.07 488.3 238.6C486.03 243.13 484.45 248.8 481.5 252.2C478.55 255.6 475.13 258.78 470.6 259C466.07 259.22 458.15 255.32 454.3 253.5C450.45 251.68 450.68 249.23 447.5 248.1C444.32 246.97 441.45 247.38 435.2 246.7C428.95 246.02 414.2 244.45 410 244Z" fill="#0430ea"/>
<rect x="410" y="152.1" width="90.6" height="106.9" filter="url(#texd)" opacity="0.9"/>
<rect x="410" y="152.1" width="90.6" height="106.9" filter="url(#texc)" opacity="0.6"/>
<g filter="url(#bl2_2)">
<ellipse cx="445" cy="162" rx="18" ry="6" fill="#0010c0" opacity="1" transform="rotate(0 445 162)"/>
<ellipse cx="486" cy="212" rx="12" ry="24" fill="#0008b0" opacity="1" transform="rotate(0 486 212)"/>
<ellipse cx="426" cy="214" rx="14" ry="10" fill="#0008b0" opacity="1" transform="rotate(0 426 214)"/>
<ellipse cx="449" cy="210" rx="6" ry="6" fill="#0008b0" opacity="1" transform="rotate(0 449 210)"/>
<ellipse cx="466" cy="243" rx="16" ry="12" fill="#0010b8" opacity="1" transform="rotate(0 466 243)"/>
<path d="M410.7 169.1C412.52 170.37 417.52 176.23 421.6 176.7C425.68 177.17 430.67 172.48 435.2 171.9C439.73 171.32 444.27 171.85 448.8 173.2C453.33 174.55 458.98 177.73 462.4 180C465.82 182.27 468.03 183.85 469.3 186.8C470.57 189.75 470.68 195.43 470 197.7C469.32 199.97 466.92 198.13 465.2 200.4C463.48 202.67 461.97 208.12 459.7 211.3C457.43 214.48 454.1 216.32 451.6 219.5C449.1 222.68 446.3 226.77 444.7 230.4C443.1 234.03 442.45 239.48 442 241.3" stroke="#10f0f0" stroke-width="5.699999999999999" fill="none" opacity="1" stroke-linecap="round"/>
<ellipse cx="421.6" cy="177.7" rx="3.5" ry="3" fill="#c0f040" opacity="1" transform="rotate(0 421.6 177.7)"/>
<ellipse cx="435.2" cy="171.9" rx="3" ry="2.5" fill="#d0f040" opacity="1" transform="rotate(0 435.2 171.9)"/>
<path d="M440.7 188.2C443.42 189.57 454.28 195.03 457 196.4" stroke="#ffa020" stroke-width="7.5" fill="none" opacity="1" stroke-linecap="round"/>
<path d="M444 190C445.67 190.83 452.33 194.17 454 195" stroke="#ff3010" stroke-width="4.199999999999999" fill="none" opacity="1" stroke-linecap="round"/>
<path d="M440 186C443 188 455 196 458 198" stroke="#d0e040" stroke-width="12.0" fill="none" opacity="0.45" stroke-linecap="round"/>
<ellipse cx="422" cy="196" rx="11" ry="5" fill="#10c0f0" opacity="0.75" transform="rotate(0 422 196)"/>
<path d="M462 210C461.5 211.67 459.5 218.33 459 220" stroke="#c0f050" stroke-width="3.75" fill="none" opacity="0.8" stroke-linecap="round"/>
<ellipse cx="447.5" cy="249.4" rx="3" ry="3" fill="#e0e040" opacity="1" transform="rotate(0 447.5 249.4)"/>
<ellipse cx="420" cy="241" rx="10" ry="3" fill="#10c0f0" opacity="0.9" transform="rotate(0 420 241)"/>
<ellipse cx="490" cy="195" rx="3" ry="4" fill="#10a0ff" opacity="0.8" transform="rotate(0 490 195)"/>
<ellipse cx="478" cy="235" rx="4" ry="4" fill="#1080ff" opacity="0.8" transform="rotate(0 478 235)"/>
</g></g>
<polygon points="453,191.7 460.61,194.03 459.89,191.84 464.92,190.18 463.48,185.82 458.45,187.48 457.73,185.29" fill="#e95fd6" stroke="#222" stroke-width="0.7" stroke-linejoin="miter"/>
<polygon points="471,177.5 473.33,185.12 474.74,183.3 479.29,186.82 482.11,183.18 477.55,179.66 478.96,177.84" fill="#f5e60f" stroke="#222" stroke-width="0.7" stroke-linejoin="miter"/>
<polygon points="460.5,210.5 467,215.1 467,212.8 473.2,212.8 473.2,208.2 467,208.2 467,205.9" fill="#ffffff" stroke="#222" stroke-width="0.7" stroke-linejoin="miter"/>
<g clip-path="url(#fm3)">
<path d="M514 152.2C515.48 152.53 519.83 154.2 522.9 154.2C525.97 154.2 528.55 153.1 532.4 152.2C536.25 151.3 541.92 148.8 546 148.8C550.08 148.8 552.37 149.83 556.9 152.2C561.43 154.57 568.43 159.37 573.2 163C577.97 166.63 581.87 169.92 585.5 174C589.13 178.08 592.73 182.97 595 187.5C597.27 192.03 598.42 196.65 599.1 201.2C599.78 205.75 599.78 210.72 599.1 214.8C598.42 218.88 597.27 222.75 595 225.7C592.73 228.65 587.77 229.57 585.5 232.5C583.23 235.43 583.22 239.9 581.4 243.3C579.58 246.7 577.32 250.4 574.6 252.9C571.88 255.4 568.05 257.85 565.1 258.3C562.15 258.75 561.67 257.42 556.9 255.6C552.13 253.78 543.65 248.77 536.5 247.4C529.35 246.03 517.75 247.4 514 247.4Z" fill="#0430ea"/>
<rect x="514" y="148.8" width="85.1" height="109.5" filter="url(#texd)" opacity="0.9"/>
<rect x="514" y="148.8" width="85.1" height="109.5" filter="url(#texc)" opacity="0.6"/>
<g filter="url(#bl2_2)">
<path d="M530 156C534.93 158.08 552.4 165.28 559.6 168.5C566.8 171.72 569.33 171.88 573.2 175.3C577.07 178.72 580.75 184.02 582.8 189C584.85 193.98 585.5 200 585.5 205.2C585.5 210.4 583.25 217.7 582.8 220.2" stroke="#000078" stroke-width="10.5" fill="none" opacity="1" stroke-linecap="round"/>
<path d="M545 162C547.83 163.33 557 167.33 562 170C567 172.67 571.5 174.33 575 178C578.5 181.67 581.33 187.5 583 192C584.67 196.5 584.67 202.83 585 205" stroke="#000060" stroke-width="6.0" fill="none" opacity="1" stroke-linecap="round"/>
<ellipse cx="527" cy="195" rx="11" ry="6" fill="#0008a0" opacity="1" transform="rotate(0 527 195)"/>
<ellipse cx="531" cy="214" rx="15" ry="6" fill="#0008a8" opacity="1" transform="rotate(0 531 214)"/>
<path d="M552.8 152C556.2 153.83 569.8 161.17 573.2 163" stroke="#10d0f0" stroke-width="5.25" fill="none" opacity="1" stroke-linecap="round"/>
<ellipse cx="568" cy="158" rx="2" ry="2" fill="#ff8020" opacity="0.8" transform="rotate(0 568 158)"/>
<ellipse cx="542" cy="167" rx="11" ry="6" fill="#10c8f0" opacity="0.9" transform="rotate(0 542 167)"/>
<path d="M516 178C518.73 177.78 527.4 176.47 532.4 176.7C537.4 176.93 541.92 178.27 546 179.4C550.08 180.53 553.72 181.68 556.9 183.5C560.08 185.32 563.52 187.35 565.1 190.3C566.68 193.25 566.63 197.58 566.4 201.2C566.17 204.82 565.28 208.6 563.7 212C562.12 215.4 559.17 218.87 556.9 221.6C554.63 224.33 551.23 227.27 550.1 228.4" stroke="#10f0f0" stroke-width="5.1" fill="none" opacity="1" stroke-linecap="round"/>
<ellipse cx="520.2" cy="184.8" rx="3.5" ry="2" fill="#c0f040" opacity="1" transform="rotate(0 520.2 184.8)"/>
<ellipse cx="549" cy="197" rx="9" ry="6" fill="#60e0a0" opacity="1" transform="rotate(25 549 197)"/>
<ellipse cx="548.7" cy="197" rx="7" ry="4" fill="#ffb020" opacity="1" transform="rotate(25 548.7 197)"/>
<ellipse cx="548.7" cy="197" rx="4" ry="2.2" fill="#ff4010" opacity="1" transform="rotate(25 548.7 197)"/>
<path d="M546 231C548.5 228.75 558.5 219.75 561 217.5" stroke="#b0f050" stroke-width="5.25" fill="none" opacity="1" stroke-linecap="round"/>
<path d="M518 197C519.33 198.17 523.67 203.5 526 204C528.33 204.5 531 200.67 532 200" stroke="#10d0f0" stroke-width="4.5" fill="none" opacity="1" stroke-linecap="round"/>
<ellipse cx="528" cy="238" rx="10" ry="6" fill="#10a8f0" opacity="0.8" transform="rotate(0 528 238)"/>
<ellipse cx="593.6" cy="198.4" rx="2" ry="6" fill="#10b0ff" opacity="0.8" transform="rotate(0 593.6 198.4)"/>
<ellipse cx="572" cy="245" rx="7" ry="8" fill="#0040e0" opacity="0.8" transform="rotate(0 572 245)"/>
</g></g>
<polygon points="555.7,197.7 563.31,200.05 562.59,197.86 567.72,196.19 566.28,191.81 561.16,193.49 560.45,191.31" fill="#e95fd6" stroke="#222" stroke-width="0.7" stroke-linejoin="miter"/>
<polygon points="567.7,178.2 570.32,185.72 571.65,183.85 576.86,187.57 579.54,183.83 574.33,180.11 575.66,178.23" fill="#f5e60f" stroke="#222" stroke-width="0.7" stroke-linejoin="miter"/>
<polygon points="563.2,215.7 569.7,220.3 569.7,218 575.2,218 575.2,213.4 569.7,213.4 569.7,211.1" fill="#ffffff" stroke="#222" stroke-width="0.7" stroke-linejoin="miter"/>
<linearGradient id="cbar" x1="0" y1="0" x2="0" y2="1"><stop offset="0" stop-color="#d7191c"/><stop offset="0.22" stop-color="#ec5a20"/><stop offset="0.38" stop-color="#f8a81a"/><stop offset="0.5" stop-color="#f2ef12"/><stop offset="0.65" stop-color="#7ac63a"/><stop offset="0.78" stop-color="#1aa39a"/><stop offset="1" stop-color="#3a82e0"/></linearGradient>
<rect x="593.3" y="122.9" width="8.9" height="39.8" fill="url(#cbar)"/>
<path d="M604.8 127.5H610.2M607.5 124.8V130.2" stroke="#111" stroke-width="1.3"/>
<path d="M604.8 160.9H609" stroke="#111" stroke-width="1.3"/>
<text x="0.9" y="17.3" font-size="25" font-weight="bold" fill="#000" textLength="11.6" lengthAdjust="spacingAndGlyphs">a</text>
<text x="225.2" y="10.5" font-size="12.2" font-weight="bold" fill="#111" textLength="24.2" lengthAdjust="spacingAndGlyphs">PDV</text>
<text x="382" y="10.3" font-size="12.2" font-weight="bold" fill="#111" textLength="125.8" lengthAdjust="spacingAndGlyphs">Fractional Anisotropy</text>
<text transform="translate(110 73.8) rotate(-90)" font-size="13" font-weight="bold" fill="#111" text-anchor="middle" textLength="49" lengthAdjust="spacingAndGlyphs">Anterior</text>
<text transform="translate(110 206) rotate(-90)" font-size="13" font-weight="bold" fill="#111" text-anchor="middle" textLength="40.5" lengthAdjust="spacingAndGlyphs">Medial</text>
<text x="350" y="277" font-size="9.5" font-weight="bold" fill="#111" text-anchor="middle" textLength="14.5" lengthAdjust="spacingAndGlyphs">0w</text>
<text x="445.5" y="277" font-size="9.5" font-weight="bold" fill="#111" text-anchor="middle" textLength="14.5" lengthAdjust="spacingAndGlyphs">3w</text>
<text x="548.8" y="277" font-size="9.5" font-weight="bold" fill="#111" text-anchor="middle" textLength="26.5" lengthAdjust="spacingAndGlyphs">3+3w</text>
<path d="M49.3 334.7V411.3H178.9" stroke="#555" stroke-width="1.3" fill="none"/>
<path d="M46.5 335.3H49.3" stroke="#555" stroke-width="1.2"/>
<text x="45.7" y="338.85" font-size="10.3" text-anchor="end" fill="#222" font-weight="normal" font-style="normal" textLength="16.8" lengthAdjust="spacingAndGlyphs">0.8</text>
<path d="M46.5 373.4H49.3" stroke="#555" stroke-width="1.2"/>
<text x="45.7" y="376.95" font-size="10.3" text-anchor="end" fill="#222" font-weight="normal" font-style="normal" textLength="16.8" lengthAdjust="spacingAndGlyphs">0.6</text>
<path d="M46.5 411.3H49.3" stroke="#555" stroke-width="1.2"/>
<text x="45.7" y="414.85" font-size="10.3" text-anchor="end" fill="#222" font-weight="normal" font-style="normal" textLength="16.8" lengthAdjust="spacingAndGlyphs">0.4</text>
<path d="M58 411.3V413.5" stroke="#555" stroke-width="1.2"/>
<path d="M109.5 411.3V413.5" stroke="#555" stroke-width="1.2"/>
<path d="M161.4 411.3V413.5" stroke="#555" stroke-width="1.2"/>
<text x="58" y="424.9" font-size="10.2" text-anchor="middle" fill="#2a2a2a" font-weight="normal" font-style="normal" textLength="14.3" lengthAdjust="spacingAndGlyphs">0w</text>
<text x="109.5" y="424.9" font-size="10.2" text-anchor="middle" fill="#2a2a2a" font-weight="normal" font-style="normal" textLength="14.3" lengthAdjust="spacingAndGlyphs">3w</text>
<text x="161.4" y="424.9" font-size="10.2" text-anchor="middle" fill="#2a2a2a" font-weight="normal" font-style="normal" textLength="26" lengthAdjust="spacingAndGlyphs">3+3w</text>
<path d="M109.5 339.5H161.7" stroke="#3c3c3c" stroke-width="1.3"/>
<path d="M131.4 335.5L131.4 332M131.4 335.5L134.73 334.42M131.4 335.5L133.46 338.33M131.4 335.5L129.34 338.33M131.4 335.5L128.07 334.42" stroke="#7d0f14" stroke-width="1.7" stroke-linecap="butt" fill="none"/><path d="M139.5 335.5L139.5 332M139.5 335.5L142.83 334.42M139.5 335.5L141.56 338.33M139.5 335.5L137.44 338.33M139.5 335.5L136.17 334.42" stroke="#7d0f14" stroke-width="1.7" stroke-linecap="butt" fill="none"/>
<path d="M58.8 349.1H161.7" stroke="#8a8a8a" stroke-width="1.3"/>
<path d="M105.45 345.1L105.45 341.6M105.45 345.1L108.78 344.02M105.45 345.1L107.51 347.93M105.45 345.1L103.39 347.93M105.45 345.1L102.12 344.02" stroke="#7d0f14" stroke-width="1.7" stroke-linecap="butt" fill="none"/><path d="M113.55 345.1L113.55 341.6M113.55 345.1L116.88 344.02M113.55 345.1L115.61 347.93M113.55 345.1L111.49 347.93M113.55 345.1L110.22 344.02" stroke="#7d0f14" stroke-width="1.7" stroke-linecap="butt" fill="none"/>
<polyline points="58,371.5 109.5,370.4 161.4,382.9" stroke="#7d0f14" stroke-width="1.3" stroke-dasharray="3 2" fill="none"/>
<polyline points="58,371.6 109.5,367.5 161.4,365.5" stroke="#111" stroke-width="1.3" stroke-dasharray="3 2" fill="none"/>
<path d="M58 361.6V381M54.6 361.6H61.4M54.6 381H61.4" stroke="#7d0f14" stroke-width="1.5" fill="none"/>
<path d="M109.5 362.5V377.7M106.1 362.5H112.9M106.1 377.7H112.9" stroke="#7d0f14" stroke-width="1.5" fill="none"/>
<path d="M161.4 371V395.7M158 371H164.8M158 395.7H164.8" stroke="#7d0f14" stroke-width="1.5" fill="none"/>
<path d="M58 362.4V381M54.6 362.4H61.4M54.6 381H61.4" stroke="#111" stroke-width="1.5" fill="none"/>
<path d="M109.5 359.5V377.3M106.1 359.5H112.9M106.1 377.3H112.9" stroke="#111" stroke-width="1.5" fill="none"/>
<path d="M161.4 359V371.8M158 359H164.8M158 371.8H164.8" stroke="#111" stroke-width="1.5" fill="none"/>
<rect x="54.7" y="368.2" width="6.6" height="6.6" fill="#7d0f14"/>
<rect x="106.2" y="367.1" width="6.6" height="6.6" fill="#7d0f14"/>
<rect x="158.1" y="379.6" width="6.6" height="6.6" fill="#7d0f14"/>
<circle cx="58" cy="371.6" r="3.5" fill="#111"/>
<circle cx="109.5" cy="367.5" r="3.5" fill="#111"/>
<circle cx="161.4" cy="365.5" r="3.5" fill="#111"/>
<path d="M153.3 355L153.3 351.5M153.3 355L156.63 353.92M153.3 355L155.36 357.83M153.3 355L151.24 357.83M153.3 355L149.97 353.92" stroke="#111" stroke-width="1.7" stroke-linecap="butt" fill="none"/><path d="M161.4 355L161.4 351.5M161.4 355L164.73 353.92M161.4 355L163.46 357.83M161.4 355L159.34 357.83M161.4 355L158.07 353.92" stroke="#111" stroke-width="1.7" stroke-linecap="butt" fill="none"/><path d="M169.5 355L169.5 351.5M169.5 355L172.83 353.92M169.5 355L171.56 357.83M169.5 355L167.44 357.83M169.5 355L166.17 353.92" stroke="#111" stroke-width="1.7" stroke-linecap="butt" fill="none"/>
<path d="M226.4 334.9V411H356.1" stroke="#555" stroke-width="1.3" fill="none"/>
<path d="M223.6 335.5H226.4" stroke="#555" stroke-width="1.2"/>
<text x="222.8" y="339.05" font-size="10.3" text-anchor="end" fill="#222" font-weight="normal" font-style="normal" textLength="16.8" lengthAdjust="spacingAndGlyphs">1.4</text>
<path d="M223.6 373.3H226.4" stroke="#555" stroke-width="1.2"/>
<text x="222.8" y="376.85" font-size="10.3" text-anchor="end" fill="#222" font-weight="normal" font-style="normal" textLength="16.8" lengthAdjust="spacingAndGlyphs">1.1</text>
<path d="M223.6 411H226.4" stroke="#555" stroke-width="1.2"/>
<text x="222.8" y="414.55" font-size="10.3" text-anchor="end" fill="#222" font-weight="normal" font-style="normal" textLength="16.8" lengthAdjust="spacingAndGlyphs">0.8</text>
<path d="M235.6 411V413.2" stroke="#555" stroke-width="1.2"/>
<path d="M287.2 411V413.2" stroke="#555" stroke-width="1.2"/>
<path d="M338.6 411V413.2" stroke="#555" stroke-width="1.2"/>
<text x="235.6" y="424.6" font-size="10.2" text-anchor="middle" fill="#2a2a2a" font-weight="normal" font-style="normal" textLength="14.3" lengthAdjust="spacingAndGlyphs">0w</text>
<text x="287.2" y="424.6" font-size="10.2" text-anchor="middle" fill="#2a2a2a" font-weight="normal" font-style="normal" textLength="14.3" lengthAdjust="spacingAndGlyphs">3w</text>
<text x="338.6" y="424.6" font-size="10.2" text-anchor="middle" fill="#2a2a2a" font-weight="normal" font-style="normal" textLength="26" lengthAdjust="spacingAndGlyphs">3+3w</text>
<text x="206.2" y="328.7" font-size="10" text-anchor="start" fill="#2a2a2a" font-weight="normal" font-style="normal" textLength="17.4" lengthAdjust="spacingAndGlyphs">x10</text>
<text x="223.5" y="325.6" font-size="7" text-anchor="start" fill="#2a2a2a" font-weight="normal" font-style="normal" textLength="6.8" lengthAdjust="spacingAndGlyphs">-3</text>
<path d="M287.2 336.7H338.9" stroke="#8a8a8a" stroke-width="1.3"/>
<path d="M308.85 332.7L308.85 329.2M308.85 332.7L312.18 331.62M308.85 332.7L310.91 335.53M308.85 332.7L306.79 335.53M308.85 332.7L305.52 331.62" stroke="#7d0f14" stroke-width="1.7" stroke-linecap="butt" fill="none"/><path d="M316.95 332.7L316.95 329.2M316.95 332.7L320.28 331.62M316.95 332.7L319.01 335.53M316.95 332.7L314.89 335.53M316.95 332.7L313.62 331.62" stroke="#7d0f14" stroke-width="1.7" stroke-linecap="butt" fill="none"/>
<path d="M236.4 346.2H338.9" stroke="#3c3c3c" stroke-width="1.3"/>
<path d="M283.15 342.2L283.15 338.7M283.15 342.2L286.48 341.12M283.15 342.2L285.21 345.03M283.15 342.2L281.09 345.03M283.15 342.2L279.82 341.12" stroke="#7d0f14" stroke-width="1.7" stroke-linecap="butt" fill="none"/><path d="M291.25 342.2L291.25 338.7M291.25 342.2L294.58 341.12M291.25 342.2L293.31 345.03M291.25 342.2L289.19 345.03M291.25 342.2L287.92 341.12" stroke="#7d0f14" stroke-width="1.7" stroke-linecap="butt" fill="none"/>
<polyline points="235.6,377.8 287.2,384.6 338.6,369.2" stroke="#7d0f14" stroke-width="1.3" stroke-dasharray="3 2" fill="none"/>
<polyline points="235.6,377.8 287.2,377.8 338.6,387.5" stroke="#111" stroke-width="1.3" stroke-dasharray="3 2" fill="none"/>
<path d="M235.6 367.6V389.1M232.2 367.6H239M232.2 389.1H239" stroke="#7d0f14" stroke-width="1.5" fill="none"/>
<path d="M287.2 379V393.2M283.8 379H290.6M283.8 393.2H290.6" stroke="#7d0f14" stroke-width="1.5" fill="none"/>
<path d="M338.6 356.8V382.3M335.2 356.8H342M335.2 382.3H342" stroke="#7d0f14" stroke-width="1.5" fill="none"/>
<path d="M235.6 369.2V386.8M232.2 369.2H239M232.2 386.8H239" stroke="#111" stroke-width="1.5" fill="none"/>
<path d="M287.2 368.8V386.8M283.8 368.8H290.6M283.8 386.8H290.6" stroke="#111" stroke-width="1.5" fill="none"/>
<path d="M338.6 381.9V391.8M335.2 381.9H342M335.2 391.8H342" stroke="#111" stroke-width="1.5" fill="none"/>
<rect x="232.3" y="374.5" width="6.6" height="6.6" fill="#7d0f14"/>
<rect x="283.9" y="381.3" width="6.6" height="6.6" fill="#7d0f14"/>
<rect x="335.3" y="365.9" width="6.6" height="6.6" fill="#7d0f14"/>
<circle cx="235.6" cy="377.8" r="3.5" fill="#111"/>
<circle cx="287.2" cy="377.8" r="3.5" fill="#111"/>
<circle cx="338.6" cy="387.5" r="3.5" fill="#111"/>
<path d="M334.55 351.8L334.55 348.3M334.55 351.8L337.88 350.72M334.55 351.8L336.61 354.63M334.55 351.8L332.49 354.63M334.55 351.8L331.22 350.72" stroke="#111" stroke-width="1.7" stroke-linecap="butt" fill="none"/><path d="M342.65 351.8L342.65 348.3M342.65 351.8L345.98 350.72M342.65 351.8L344.71 354.63M342.65 351.8L340.59 354.63M342.65 351.8L339.32 350.72" stroke="#111" stroke-width="1.7" stroke-linecap="butt" fill="none"/>
<path d="M401.2 336.5V412.1H530.8" stroke="#555" stroke-width="1.3" fill="none"/>
<path d="M398.4 337.1H401.2" stroke="#555" stroke-width="1.2"/>
<text x="397.6" y="340.65" font-size="10.3" text-anchor="end" fill="#222" font-weight="normal" font-style="normal" textLength="16.8" lengthAdjust="spacingAndGlyphs">0.9</text>
<path d="M398.4 374.4H401.2" stroke="#555" stroke-width="1.2"/>
<text x="397.6" y="377.95" font-size="10.3" text-anchor="end" fill="#222" font-weight="normal" font-style="normal" textLength="16.8" lengthAdjust="spacingAndGlyphs">0.7</text>
<path d="M398.4 412.1H401.2" stroke="#555" stroke-width="1.2"/>
<text x="397.6" y="415.65" font-size="10.3" text-anchor="end" fill="#222" font-weight="normal" font-style="normal" textLength="16.8" lengthAdjust="spacingAndGlyphs">0.5</text>
<path d="M410.1 412.1V414.3" stroke="#555" stroke-width="1.2"/>
<path d="M461.6 412.1V414.3" stroke="#555" stroke-width="1.2"/>
<path d="M513.3 412.1V414.3" stroke="#555" stroke-width="1.2"/>
<text x="410.1" y="425.7" font-size="10.2" text-anchor="middle" fill="#2a2a2a" font-weight="normal" font-style="normal" textLength="14.3" lengthAdjust="spacingAndGlyphs">0w</text>
<text x="461.6" y="425.7" font-size="10.2" text-anchor="middle" fill="#2a2a2a" font-weight="normal" font-style="normal" textLength="14.3" lengthAdjust="spacingAndGlyphs">3w</text>
<text x="513.3" y="425.7" font-size="10.2" text-anchor="middle" fill="#2a2a2a" font-weight="normal" font-style="normal" textLength="26" lengthAdjust="spacingAndGlyphs">3+3w</text>
<text x="381" y="330.3" font-size="10" text-anchor="start" fill="#2a2a2a" font-weight="normal" font-style="normal" textLength="17.4" lengthAdjust="spacingAndGlyphs">x10</text>
<text x="398.3" y="327.2" font-size="7" text-anchor="start" fill="#2a2a2a" font-weight="normal" font-style="normal" textLength="6.8" lengthAdjust="spacingAndGlyphs">-3</text>
<path d="M461.6 335.3H513.6" stroke="#3c3c3c" stroke-width="1.3"/>
<path d="M483.4 331.3L483.4 327.8M483.4 331.3L486.73 330.22M483.4 331.3L485.46 334.13M483.4 331.3L481.34 334.13M483.4 331.3L480.07 330.22" stroke="#7d0f14" stroke-width="1.7" stroke-linecap="butt" fill="none"/><path d="M491.5 331.3L491.5 327.8M491.5 331.3L494.83 330.22M491.5 331.3L493.56 334.13M491.5 331.3L489.44 334.13M491.5 331.3L488.17 330.22" stroke="#7d0f14" stroke-width="1.7" stroke-linecap="butt" fill="none"/>
<path d="M410.9 344.6H513.6" stroke="#8a8a8a" stroke-width="1.3"/>
<path d="M457.55 340.6L457.55 337.1M457.55 340.6L460.88 339.52M457.55 340.6L459.61 343.43M457.55 340.6L455.49 343.43M457.55 340.6L454.22 339.52" stroke="#7d0f14" stroke-width="1.7" stroke-linecap="butt" fill="none"/><path d="M465.65 340.6L465.65 337.1M465.65 340.6L468.98 339.52M465.65 340.6L467.71 343.43M465.65 340.6L463.59 343.43M465.65 340.6L462.32 339.52" stroke="#7d0f14" stroke-width="1.7" stroke-linecap="butt" fill="none"/>
<polyline points="410.1,380.5 461.6,385.7 513.3,364.7" stroke="#7d0f14" stroke-width="1.3" stroke-dasharray="3 2" fill="none"/>
<polyline points="410.1,380.5 461.6,382.8 513.3,391.8" stroke="#111" stroke-width="1.3" stroke-dasharray="3 2" fill="none"/>
<path d="M410.1 369.9V391.4M406.7 369.9H413.5M406.7 391.4H413.5" stroke="#7d0f14" stroke-width="1.5" fill="none"/>
<path d="M461.6 374.9V392M458.2 374.9H465M458.2 392H465" stroke="#7d0f14" stroke-width="1.5" fill="none"/>
<path d="M513.3 354.5V375.1M509.9 354.5H516.7M509.9 375.1H516.7" stroke="#7d0f14" stroke-width="1.5" fill="none"/>
<path d="M410.1 369.2V391.4M406.7 369.2H413.5M406.7 391.4H413.5" stroke="#111" stroke-width="1.5" fill="none"/>
<path d="M461.6 369.9V395.9M458.2 369.9H465M458.2 395.9H465" stroke="#111" stroke-width="1.5" fill="none"/>
<path d="M513.3 382.3V401.5M509.9 382.3H516.7M509.9 401.5H516.7" stroke="#111" stroke-width="1.5" fill="none"/>
<rect x="406.8" y="377.2" width="6.6" height="6.6" fill="#7d0f14"/>
<rect x="458.3" y="382.4" width="6.6" height="6.6" fill="#7d0f14"/>
<rect x="510" y="361.4" width="6.6" height="6.6" fill="#7d0f14"/>
<circle cx="410.1" cy="380.5" r="3.5" fill="#111"/>
<circle cx="461.6" cy="382.8" r="3.5" fill="#111"/>
<circle cx="513.3" cy="391.8" r="3.5" fill="#111"/>
<path d="M501.15 350.7L501.15 347.2M501.15 350.7L504.48 349.62M501.15 350.7L503.21 353.53M501.15 350.7L499.09 353.53M501.15 350.7L497.82 349.62" stroke="#111" stroke-width="1.7" stroke-linecap="butt" fill="none"/><path d="M509.25 350.7L509.25 347.2M509.25 350.7L512.58 349.62M509.25 350.7L511.31 353.53M509.25 350.7L507.19 353.53M509.25 350.7L505.92 349.62" stroke="#111" stroke-width="1.7" stroke-linecap="butt" fill="none"/><path d="M517.35 350.7L517.35 347.2M517.35 350.7L520.68 349.62M517.35 350.7L519.41 353.53M517.35 350.7L515.29 353.53M517.35 350.7L514.02 349.62" stroke="#111" stroke-width="1.7" stroke-linecap="butt" fill="none"/><path d="M525.45 350.7L525.45 347.2M525.45 350.7L528.78 349.62M525.45 350.7L527.51 353.53M525.45 350.7L523.39 353.53M525.45 350.7L522.12 349.62" stroke="#111" stroke-width="1.7" stroke-linecap="butt" fill="none"/>
<path d="M576.6 336.5V412.3H706.5" stroke="#555" stroke-width="1.3" fill="none"/>
<path d="M573.8 337.1H576.6" stroke="#555" stroke-width="1.2"/>
<text x="573" y="340.65" font-size="10.3" text-anchor="end" fill="#222" font-weight="normal" font-style="normal" textLength="16.8" lengthAdjust="spacingAndGlyphs">2.4</text>
<path d="M573.8 367H576.6" stroke="#555" stroke-width="1.2"/>
<text x="573" y="370.55" font-size="10.3" text-anchor="end" fill="#222" font-weight="normal" font-style="normal" textLength="16.8" lengthAdjust="spacingAndGlyphs">2.0</text>
<path d="M573.8 397.5H576.6" stroke="#555" stroke-width="1.2"/>
<text x="573" y="401.05" font-size="10.3" text-anchor="end" fill="#222" font-weight="normal" font-style="normal" textLength="16.8" lengthAdjust="spacingAndGlyphs">1.6</text>
<path d="M585.8 412.3V414.5" stroke="#555" stroke-width="1.2"/>
<path d="M637.5 412.3V414.5" stroke="#555" stroke-width="1.2"/>
<path d="M689 412.3V414.5" stroke="#555" stroke-width="1.2"/>
<text x="585.8" y="425.9" font-size="10.2" text-anchor="middle" fill="#2a2a2a" font-weight="normal" font-style="normal" textLength="14.3" lengthAdjust="spacingAndGlyphs">0w</text>
<text x="637.5" y="425.9" font-size="10.2" text-anchor="middle" fill="#2a2a2a" font-weight="normal" font-style="normal" textLength="14.3" lengthAdjust="spacingAndGlyphs">3w</text>
<text x="689" y="425.9" font-size="10.2" text-anchor="middle" fill="#2a2a2a" font-weight="normal" font-style="normal" textLength="26" lengthAdjust="spacingAndGlyphs">3+3w</text>
<text x="556.4" y="330.3" font-size="10" text-anchor="start" fill="#2a2a2a" font-weight="normal" font-style="normal" textLength="17.4" lengthAdjust="spacingAndGlyphs">x10</text>
<text x="573.7" y="327.2" font-size="7" text-anchor="start" fill="#2a2a2a" font-weight="normal" font-style="normal" textLength="6.8" lengthAdjust="spacingAndGlyphs">-3</text>
<polyline points="585.8,378.2 637.5,385.7 689,374.4" stroke="#7d0f14" stroke-width="1.3" stroke-dasharray="3 2" fill="none"/>
<polyline points="585.8,378.2 637.5,375.1 689,385.7" stroke="#111" stroke-width="1.3" stroke-dasharray="3 2" fill="none"/>
<path d="M585.8 363.1V394.1M582.4 363.1H589.2M582.4 394.1H589.2" stroke="#7d0f14" stroke-width="1.5" fill="none"/>
<path d="M637.5 380V396.3M634.1 380H640.9M634.1 396.3H640.9" stroke="#7d0f14" stroke-width="1.5" fill="none"/>
<path d="M689 356.8V383.4M685.6 356.8H692.4M685.6 383.4H692.4" stroke="#7d0f14" stroke-width="1.5" fill="none"/>
<path d="M585.8 364.2V390.9M582.4 364.2H589.2M582.4 390.9H589.2" stroke="#111" stroke-width="1.5" fill="none"/>
<path d="M637.5 364.2V383M634.1 364.2H640.9M634.1 383H640.9" stroke="#111" stroke-width="1.5" fill="none"/>
<path d="M689 380V392.5M685.6 380H692.4M685.6 392.5H692.4" stroke="#111" stroke-width="1.5" fill="none"/>
<rect x="582.5" y="374.9" width="6.6" height="6.6" fill="#7d0f14"/>
<rect x="634.2" y="382.4" width="6.6" height="6.6" fill="#7d0f14"/>
<rect x="685.7" y="371.1" width="6.6" height="6.6" fill="#7d0f14"/>
<circle cx="585.8" cy="378.2" r="3.5" fill="#111"/>
<circle cx="637.5" cy="375.1" r="3.5" fill="#111"/>
<circle cx="689" cy="385.7" r="3.5" fill="#111"/>
<path d="M49.3 448.5V524.1H178.9" stroke="#555" stroke-width="1.3" fill="none"/>
<path d="M46.5 449.1H49.3" stroke="#555" stroke-width="1.2"/>
<text x="45.7" y="452.65" font-size="10.3" text-anchor="end" fill="#222" font-weight="normal" font-style="normal" textLength="16.8" lengthAdjust="spacingAndGlyphs">1.0</text>
<path d="M46.5 474H49.3" stroke="#555" stroke-width="1.2"/>
<text x="45.7" y="477.55" font-size="10.3" text-anchor="end" fill="#222" font-weight="normal" font-style="normal" textLength="16.8" lengthAdjust="spacingAndGlyphs">0.8</text>
<path d="M46.5 498.6H49.3" stroke="#555" stroke-width="1.2"/>
<text x="45.7" y="502.15" font-size="10.3" text-anchor="end" fill="#222" font-weight="normal" font-style="normal" textLength="16.8" lengthAdjust="spacingAndGlyphs">0.6</text>
<path d="M46.5 524.1H49.3" stroke="#555" stroke-width="1.2"/>
<text x="45.7" y="527.65" font-size="10.3" text-anchor="end" fill="#222" font-weight="normal" font-style="normal" textLength="16.8" lengthAdjust="spacingAndGlyphs">0.4</text>
<path d="M58 524.1V526.3" stroke="#555" stroke-width="1.2"/>
<path d="M109.5 524.1V526.3" stroke="#555" stroke-width="1.2"/>
<path d="M161.4 524.1V526.3" stroke="#555" stroke-width="1.2"/>
<text x="58" y="537.7" font-size="10.2" text-anchor="middle" fill="#2a2a2a" font-weight="normal" font-style="normal" textLength="14.3" lengthAdjust="spacingAndGlyphs">0w</text>
<text x="109.5" y="537.7" font-size="10.2" text-anchor="middle" fill="#2a2a2a" font-weight="normal" font-style="normal" textLength="14.3" lengthAdjust="spacingAndGlyphs">3w</text>
<text x="161.4" y="537.7" font-size="10.2" text-anchor="middle" fill="#2a2a2a" font-weight="normal" font-style="normal" textLength="26" lengthAdjust="spacingAndGlyphs">3+3w</text>
<path d="M109.5 447H161.7" stroke="#8a8a8a" stroke-width="1.3"/>
<path d="M131.4 443L131.4 439.5M131.4 443L134.73 441.92M131.4 443L133.46 445.83M131.4 443L129.34 445.83M131.4 443L128.07 441.92" stroke="#7d0f14" stroke-width="1.7" stroke-linecap="butt" fill="none"/><path d="M139.5 443L139.5 439.5M139.5 443L142.83 441.92M139.5 443L141.56 445.83M139.5 443L137.44 445.83M139.5 443L136.17 441.92" stroke="#7d0f14" stroke-width="1.7" stroke-linecap="butt" fill="none"/>
<path d="M58.8 456H161.7" stroke="#3c3c3c" stroke-width="1.3"/>
<path d="M105.45 452L105.45 448.5M105.45 452L108.78 450.92M105.45 452L107.51 454.83M105.45 452L103.39 454.83M105.45 452L102.12 450.92" stroke="#7d0f14" stroke-width="1.7" stroke-linecap="butt" fill="none"/><path d="M113.55 452L113.55 448.5M113.55 452L116.88 450.92M113.55 452L115.61 454.83M113.55 452L111.49 454.83M113.55 452L110.22 450.92" stroke="#7d0f14" stroke-width="1.7" stroke-linecap="butt" fill="none"/>
<polyline points="58,483.9 109.5,490.5 161.4,501.7" stroke="#7d0f14" stroke-width="1.3" stroke-dasharray="3 2" fill="none"/>
<polyline points="58,483.9 109.5,483.9 161.4,475.8" stroke="#111" stroke-width="1.3" stroke-dasharray="3 2" fill="none"/>
<path d="M58 476.5V491M54.6 476.5H61.4M54.6 491H61.4" stroke="#7d0f14" stroke-width="1.5" fill="none"/>
<path d="M109.5 485.4V498.1M106.1 485.4H112.9M106.1 498.1H112.9" stroke="#7d0f14" stroke-width="1.5" fill="none"/>
<path d="M161.4 491.8V511.4M158 491.8H164.8M158 511.4H164.8" stroke="#7d0f14" stroke-width="1.5" fill="none"/>
<path d="M58 477V490.5M54.6 477H61.4M54.6 490.5H61.4" stroke="#111" stroke-width="1.5" fill="none"/>
<path d="M109.5 476.5V490M106.1 476.5H112.9M106.1 490H112.9" stroke="#111" stroke-width="1.5" fill="none"/>
<path d="M161.4 466.1V484.7M158 466.1H164.8M158 484.7H164.8" stroke="#111" stroke-width="1.5" fill="none"/>
<rect x="54.7" y="480.6" width="6.6" height="6.6" fill="#7d0f14"/>
<rect x="106.2" y="487.2" width="6.6" height="6.6" fill="#7d0f14"/>
<rect x="158.1" y="498.4" width="6.6" height="6.6" fill="#7d0f14"/>
<circle cx="58" cy="483.9" r="3.5" fill="#111"/>
<circle cx="109.5" cy="483.9" r="3.5" fill="#111"/>
<circle cx="161.4" cy="475.8" r="3.5" fill="#111"/>
<path d="M149.25 461.8L149.25 458.3M149.25 461.8L152.58 460.72M149.25 461.8L151.31 464.63M149.25 461.8L147.19 464.63M149.25 461.8L145.92 460.72" stroke="#111" stroke-width="1.7" stroke-linecap="butt" fill="none"/><path d="M157.35 461.8L157.35 458.3M157.35 461.8L160.68 460.72M157.35 461.8L159.41 464.63M157.35 461.8L155.29 464.63M157.35 461.8L154.02 460.72" stroke="#111" stroke-width="1.7" stroke-linecap="butt" fill="none"/><path d="M165.45 461.8L165.45 458.3M165.45 461.8L168.78 460.72M165.45 461.8L167.51 464.63M165.45 461.8L163.39 464.63M165.45 461.8L162.12 460.72" stroke="#111" stroke-width="1.7" stroke-linecap="butt" fill="none"/><path d="M173.55 461.8L173.55 458.3M173.55 461.8L176.88 460.72M173.55 461.8L175.61 464.63M173.55 461.8L171.49 464.63M173.55 461.8L170.22 460.72" stroke="#111" stroke-width="1.7" stroke-linecap="butt" fill="none"/>
<path d="M105.45 472.7L105.45 469.2M105.45 472.7L108.78 471.62M105.45 472.7L107.51 475.53M105.45 472.7L103.39 475.53M105.45 472.7L102.12 471.62" stroke="#111" stroke-width="1.7" stroke-linecap="butt" fill="none"/><path d="M113.55 472.7L113.55 469.2M113.55 472.7L116.88 471.62M113.55 472.7L115.61 475.53M113.55 472.7L111.49 475.53M113.55 472.7L110.22 471.62" stroke="#111" stroke-width="1.7" stroke-linecap="butt" fill="none"/>
<path d="M226.4 447.9V522.7H356.1" stroke="#555" stroke-width="1.3" fill="none"/>
<path d="M223.6 448.5H226.4" stroke="#555" stroke-width="1.2"/>
<text x="222.8" y="452.05" font-size="10.3" text-anchor="end" fill="#222" font-weight="normal" font-style="normal" textLength="16.8" lengthAdjust="spacingAndGlyphs">1.4</text>
<path d="M223.6 485.4H226.4" stroke="#555" stroke-width="1.2"/>
<text x="222.8" y="488.95" font-size="10.3" text-anchor="end" fill="#222" font-weight="normal" font-style="normal" textLength="16.8" lengthAdjust="spacingAndGlyphs">1.0</text>
<path d="M223.6 522.7H226.4" stroke="#555" stroke-width="1.2"/>
<text x="222.8" y="526.25" font-size="10.3" text-anchor="end" fill="#222" font-weight="normal" font-style="normal" textLength="16.8" lengthAdjust="spacingAndGlyphs">0.6</text>
<path d="M235.6 522.7V524.9" stroke="#555" stroke-width="1.2"/>
<path d="M287.2 522.7V524.9" stroke="#555" stroke-width="1.2"/>
<path d="M338.6 522.7V524.9" stroke="#555" stroke-width="1.2"/>
<text x="235.6" y="536.3" font-size="10.2" text-anchor="middle" fill="#2a2a2a" font-weight="normal" font-style="normal" textLength="14.3" lengthAdjust="spacingAndGlyphs">0w</text>
<text x="287.2" y="536.3" font-size="10.2" text-anchor="middle" fill="#2a2a2a" font-weight="normal" font-style="normal" textLength="14.3" lengthAdjust="spacingAndGlyphs">3w</text>
<text x="338.6" y="536.3" font-size="10.2" text-anchor="middle" fill="#2a2a2a" font-weight="normal" font-style="normal" textLength="26" lengthAdjust="spacingAndGlyphs">3+3w</text>
<path d="M287.2 448.1H338.9" stroke="#8a8a8a" stroke-width="1.3"/>
<path d="M308.85 444.1L308.85 440.6M308.85 444.1L312.18 443.02M308.85 444.1L310.91 446.93M308.85 444.1L306.79 446.93M308.85 444.1L305.52 443.02" stroke="#7d0f14" stroke-width="1.7" stroke-linecap="butt" fill="none"/><path d="M316.95 444.1L316.95 440.6M316.95 444.1L320.28 443.02M316.95 444.1L319.01 446.93M316.95 444.1L314.89 446.93M316.95 444.1L313.62 443.02" stroke="#7d0f14" stroke-width="1.7" stroke-linecap="butt" fill="none"/>
<polyline points="235.6,479.7 287.2,491.5 338.6,465.5" stroke="#7d0f14" stroke-width="1.3" stroke-dasharray="3 2" fill="none"/>
<polyline points="235.6,483.1 287.2,479.3 338.6,484.7" stroke="#111" stroke-width="1.3" stroke-dasharray="3 2" fill="none"/>
<path d="M235.6 470V490.6M232.2 470H239M232.2 490.6H239" stroke="#7d0f14" stroke-width="1.5" fill="none"/>
<path d="M287.2 484.2V505.7M283.8 484.2H290.6M283.8 505.7H290.6" stroke="#7d0f14" stroke-width="1.5" fill="none"/>
<path d="M338.6 457.6V472.9M335.2 457.6H342M335.2 472.9H342" stroke="#7d0f14" stroke-width="1.5" fill="none"/>
<path d="M235.6 476.3V490.6M232.2 476.3H239M232.2 490.6H239" stroke="#111" stroke-width="1.5" fill="none"/>
<path d="M287.2 471.1V487.6M283.8 471.1H290.6M283.8 487.6H290.6" stroke="#111" stroke-width="1.5" fill="none"/>
<path d="M338.6 482V488.3M335.2 482H342M335.2 488.3H342" stroke="#111" stroke-width="1.5" fill="none"/>
<rect x="232.3" y="476.4" width="6.6" height="6.6" fill="#7d0f14"/>
<rect x="283.9" y="488.2" width="6.6" height="6.6" fill="#7d0f14"/>
<rect x="335.3" y="462.2" width="6.6" height="6.6" fill="#7d0f14"/>
<circle cx="235.6" cy="483.1" r="3.5" fill="#111"/>
<circle cx="287.2" cy="479.3" r="3.5" fill="#111"/>
<circle cx="338.6" cy="484.7" r="3.5" fill="#111"/>
<path d="M283.15 466.2L283.15 462.7M283.15 466.2L286.48 465.12M283.15 466.2L285.21 469.03M283.15 466.2L281.09 469.03M283.15 466.2L279.82 465.12" stroke="#111" stroke-width="1.7" stroke-linecap="butt" fill="none"/><path d="M291.25 466.2L291.25 462.7M291.25 466.2L294.58 465.12M291.25 466.2L293.31 469.03M291.25 466.2L289.19 469.03M291.25 466.2L287.92 465.12" stroke="#111" stroke-width="1.7" stroke-linecap="butt" fill="none"/>
<path d="M334.55 453.3L334.55 449.8M334.55 453.3L337.88 452.22M334.55 453.3L336.61 456.13M334.55 453.3L332.49 456.13M334.55 453.3L331.22 452.22" stroke="#111" stroke-width="1.7" stroke-linecap="butt" fill="none"/><path d="M342.65 453.3L342.65 449.8M342.65 453.3L345.98 452.22M342.65 453.3L344.71 456.13M342.65 453.3L340.59 456.13M342.65 453.3L339.32 452.22" stroke="#111" stroke-width="1.7" stroke-linecap="butt" fill="none"/>
<path d="M401.2 447V522.7H530.8" stroke="#555" stroke-width="1.3" fill="none"/>
<path d="M398.4 447.6H401.2" stroke="#555" stroke-width="1.2"/>
<text x="397.6" y="451.15" font-size="10.3" text-anchor="end" fill="#222" font-weight="normal" font-style="normal" textLength="16.8" lengthAdjust="spacingAndGlyphs">1.1</text>
<path d="M398.4 481.5H401.2" stroke="#555" stroke-width="1.2"/>
<text x="397.6" y="485.05" font-size="10.3" text-anchor="end" fill="#222" font-weight="normal" font-style="normal" textLength="16.8" lengthAdjust="spacingAndGlyphs">0.7</text>
<path d="M398.4 515.2H401.2" stroke="#555" stroke-width="1.2"/>
<text x="397.6" y="518.75" font-size="10.3" text-anchor="end" fill="#222" font-weight="normal" font-style="normal" textLength="16.8" lengthAdjust="spacingAndGlyphs">0.3</text>
<path d="M410.1 522.7V524.9" stroke="#555" stroke-width="1.2"/>
<path d="M461.6 522.7V524.9" stroke="#555" stroke-width="1.2"/>
<path d="M513.3 522.7V524.9" stroke="#555" stroke-width="1.2"/>
<text x="410.1" y="536.3" font-size="10.2" text-anchor="middle" fill="#2a2a2a" font-weight="normal" font-style="normal" textLength="14.3" lengthAdjust="spacingAndGlyphs">0w</text>
<text x="461.6" y="536.3" font-size="10.2" text-anchor="middle" fill="#2a2a2a" font-weight="normal" font-style="normal" textLength="14.3" lengthAdjust="spacingAndGlyphs">3w</text>
<text x="513.3" y="536.3" font-size="10.2" text-anchor="middle" fill="#2a2a2a" font-weight="normal" font-style="normal" textLength="26" lengthAdjust="spacingAndGlyphs">3+3w</text>
<path d="M461.6 451.5H513.6" stroke="#3c3c3c" stroke-width="1.3"/>
<path d="M483.4 447.5L483.4 444M483.4 447.5L486.73 446.42M483.4 447.5L485.46 450.33M483.4 447.5L481.34 450.33M483.4 447.5L480.07 446.42" stroke="#7d0f14" stroke-width="1.7" stroke-linecap="butt" fill="none"/><path d="M491.5 447.5L491.5 444M491.5 447.5L494.83 446.42M491.5 447.5L493.56 450.33M491.5 447.5L489.44 450.33M491.5 447.5L488.17 446.42" stroke="#7d0f14" stroke-width="1.7" stroke-linecap="butt" fill="none"/>
<path d="M410.9 460.5H513.6" stroke="#8a8a8a" stroke-width="1.3"/>
<path d="M457.55 456.5L457.55 453M457.55 456.5L460.88 455.42M457.55 456.5L459.61 459.33M457.55 456.5L455.49 459.33M457.55 456.5L454.22 455.42" stroke="#7d0f14" stroke-width="1.7" stroke-linecap="butt" fill="none"/><path d="M465.65 456.5L465.65 453M465.65 456.5L468.98 455.42M465.65 456.5L467.71 459.33M465.65 456.5L463.59 459.33M465.65 456.5L462.32 455.42" stroke="#7d0f14" stroke-width="1.7" stroke-linecap="butt" fill="none"/>
<polyline points="410.1,495.1 461.6,496 513.3,476.3" stroke="#7d0f14" stroke-width="1.3" stroke-dasharray="3 2" fill="none"/>
<polyline points="410.1,495.1 461.6,494.4 513.3,505.3" stroke="#111" stroke-width="1.3" stroke-dasharray="3 2" fill="none"/>
<path d="M410.1 488V502.8M406.7 488H413.5M406.7 502.8H413.5" stroke="#7d0f14" stroke-width="1.5" fill="none"/>
<path d="M461.6 489V503.4M458.2 489H465M458.2 503.4H465" stroke="#7d0f14" stroke-width="1.5" fill="none"/>
<path d="M513.3 470.2V482M509.9 470.2H516.7M509.9 482H516.7" stroke="#7d0f14" stroke-width="1.5" fill="none"/>
<path d="M410.1 487.6V502.8M406.7 487.6H413.5M406.7 502.8H413.5" stroke="#111" stroke-width="1.5" fill="none"/>
<path d="M461.6 487V502.8M458.2 487H465M458.2 502.8H465" stroke="#111" stroke-width="1.5" fill="none"/>
<path d="M513.3 496.7V514.3M509.9 496.7H516.7M509.9 514.3H516.7" stroke="#111" stroke-width="1.5" fill="none"/>
<rect x="406.8" y="491.8" width="6.6" height="6.6" fill="#7d0f14"/>
<rect x="458.3" y="492.7" width="6.6" height="6.6" fill="#7d0f14"/>
<rect x="510" y="473" width="6.6" height="6.6" fill="#7d0f14"/>
<circle cx="410.1" cy="495.1" r="3.5" fill="#111"/>
<circle cx="461.6" cy="494.4" r="3.5" fill="#111"/>
<circle cx="513.3" cy="505.3" r="3.5" fill="#111"/>
<path d="M501.15 466.2L501.15 462.7M501.15 466.2L504.48 465.12M501.15 466.2L503.21 469.03M501.15 466.2L499.09 469.03M501.15 466.2L497.82 465.12" stroke="#111" stroke-width="1.7" stroke-linecap="butt" fill="none"/><path d="M509.25 466.2L509.25 462.7M509.25 466.2L512.58 465.12M509.25 466.2L511.31 469.03M509.25 466.2L507.19 469.03M509.25 466.2L505.92 465.12" stroke="#111" stroke-width="1.7" stroke-linecap="butt" fill="none"/><path d="M517.35 466.2L517.35 462.7M517.35 466.2L520.68 465.12M517.35 466.2L519.41 469.03M517.35 466.2L515.29 469.03M517.35 466.2L514.02 465.12" stroke="#111" stroke-width="1.7" stroke-linecap="butt" fill="none"/><path d="M525.45 466.2L525.45 462.7M525.45 466.2L528.78 465.12M525.45 466.2L527.51 469.03M525.45 466.2L523.39 469.03M525.45 466.2L522.12 465.12" stroke="#111" stroke-width="1.7" stroke-linecap="butt" fill="none"/>
<path d="M576.6 446.8V522.7H706.5" stroke="#555" stroke-width="1.3" fill="none"/>
<path d="M573.8 447.4H576.6" stroke="#555" stroke-width="1.2"/>
<text x="573" y="450.95" font-size="10.3" text-anchor="end" fill="#222" font-weight="normal" font-style="normal" textLength="6.9" lengthAdjust="spacingAndGlyphs">3</text>
<path d="M573.8 484.9H576.6" stroke="#555" stroke-width="1.2"/>
<text x="573" y="488.45" font-size="10.3" text-anchor="end" fill="#222" font-weight="normal" font-style="normal" textLength="6.9" lengthAdjust="spacingAndGlyphs">2</text>
<path d="M573.8 522.7H576.6" stroke="#555" stroke-width="1.2"/>
<text x="573" y="526.25" font-size="10.3" text-anchor="end" fill="#222" font-weight="normal" font-style="normal" textLength="6.9" lengthAdjust="spacingAndGlyphs">1</text>
<path d="M585.8 522.7V524.9" stroke="#555" stroke-width="1.2"/>
<path d="M637.5 522.7V524.9" stroke="#555" stroke-width="1.2"/>
<path d="M689 522.7V524.9" stroke="#555" stroke-width="1.2"/>
<text x="585.8" y="536.3" font-size="10.2" text-anchor="middle" fill="#2a2a2a" font-weight="normal" font-style="normal" textLength="14.3" lengthAdjust="spacingAndGlyphs">0w</text>
<text x="637.5" y="536.3" font-size="10.2" text-anchor="middle" fill="#2a2a2a" font-weight="normal" font-style="normal" textLength="14.3" lengthAdjust="spacingAndGlyphs">3w</text>
<text x="689" y="536.3" font-size="10.2" text-anchor="middle" fill="#2a2a2a" font-weight="normal" font-style="normal" textLength="26" lengthAdjust="spacingAndGlyphs">3+3w</text>
<polyline points="585.8,480.2 637.5,495.1 689,484.7" stroke="#7d0f14" stroke-width="1.3" stroke-dasharray="3 2" fill="none"/>
<polyline points="585.8,484.7 637.5,481.5 689,477.9" stroke="#111" stroke-width="1.3" stroke-dasharray="3 2" fill="none"/>
<path d="M585.8 466.8V492.8M582.4 466.8H589.2M582.4 492.8H589.2" stroke="#7d0f14" stroke-width="1.5" fill="none"/>
<path d="M637.5 490.6V506.8M634.1 490.6H640.9M634.1 506.8H640.9" stroke="#7d0f14" stroke-width="1.5" fill="none"/>
<path d="M689 472.9V495.5M685.6 472.9H692.4M685.6 495.5H692.4" stroke="#7d0f14" stroke-width="1.5" fill="none"/>
<path d="M585.8 477.5V491M582.4 477.5H589.2M582.4 491H589.2" stroke="#111" stroke-width="1.5" fill="none"/>
<path d="M637.5 472.3V490.6M634.1 472.3H640.9M634.1 490.6H640.9" stroke="#111" stroke-width="1.5" fill="none"/>
<path d="M689 467.3V487.6M685.6 467.3H692.4M685.6 487.6H692.4" stroke="#111" stroke-width="1.5" fill="none"/>
<rect x="582.5" y="476.9" width="6.6" height="6.6" fill="#7d0f14"/>
<rect x="634.2" y="491.8" width="6.6" height="6.6" fill="#7d0f14"/>
<rect x="685.7" y="481.4" width="6.6" height="6.6" fill="#7d0f14"/>
<circle cx="585.8" cy="484.7" r="3.5" fill="#111"/>
<circle cx="637.5" cy="481.5" r="3.5" fill="#111"/>
<circle cx="689" cy="477.9" r="3.5" fill="#111"/>
<path d="M637.5 467.3L637.5 463.8M637.5 467.3L640.83 466.22M637.5 467.3L639.56 470.13M637.5 467.3L635.44 470.13M637.5 467.3L634.17 466.22" stroke="#111" stroke-width="1.7" stroke-linecap="butt" fill="none"/>
<path d="M49.3 558.5V634.6H178.9" stroke="#555" stroke-width="1.3" fill="none"/>
<path d="M46.5 559.1H49.3" stroke="#555" stroke-width="1.2"/>
<text x="45.7" y="562.65" font-size="10.3" text-anchor="end" fill="#222" font-weight="normal" font-style="normal" textLength="23.7" lengthAdjust="spacingAndGlyphs">0.65</text>
<path d="M46.5 589.1H49.3" stroke="#555" stroke-width="1.2"/>
<text x="45.7" y="592.65" font-size="10.3" text-anchor="end" fill="#222" font-weight="normal" font-style="normal" textLength="23.7" lengthAdjust="spacingAndGlyphs">0.55</text>
<path d="M46.5 619.3H49.3" stroke="#555" stroke-width="1.2"/>
<text x="45.7" y="622.85" font-size="10.3" text-anchor="end" fill="#222" font-weight="normal" font-style="normal" textLength="23.7" lengthAdjust="spacingAndGlyphs">0.45</text>
<path d="M58 634.6V636.8" stroke="#555" stroke-width="1.2"/>
<path d="M109.5 634.6V636.8" stroke="#555" stroke-width="1.2"/>
<path d="M161.4 634.6V636.8" stroke="#555" stroke-width="1.2"/>
<text x="58" y="648.2" font-size="10.2" text-anchor="middle" fill="#2a2a2a" font-weight="normal" font-style="normal" textLength="14.3" lengthAdjust="spacingAndGlyphs">0w</text>
<text x="109.5" y="648.2" font-size="10.2" text-anchor="middle" fill="#2a2a2a" font-weight="normal" font-style="normal" textLength="14.3" lengthAdjust="spacingAndGlyphs">3w</text>
<text x="161.4" y="648.2" font-size="10.2" text-anchor="middle" fill="#2a2a2a" font-weight="normal" font-style="normal" textLength="26" lengthAdjust="spacingAndGlyphs">3+3w</text>
<polyline points="58,591.6 109.5,609.9 161.4,598.5" stroke="#7d0f14" stroke-width="1.3" stroke-dasharray="3 2" fill="none"/>
<polyline points="58,587.5 109.5,590.9 161.4,589.6" stroke="#111" stroke-width="1.3" stroke-dasharray="3 2" fill="none"/>
<path d="M58 582.7V601M54.6 582.7H61.4M54.6 601H61.4" stroke="#7d0f14" stroke-width="1.5" fill="none"/>
<path d="M109.5 599.8V621.4M106.1 599.8H112.9M106.1 621.4H112.9" stroke="#7d0f14" stroke-width="1.5" fill="none"/>
<path d="M161.4 596V601M158 596H164.8M158 601H164.8" stroke="#7d0f14" stroke-width="1.5" fill="none"/>
<path d="M58 581.4V593M54.6 581.4H61.4M54.6 593H61.4" stroke="#111" stroke-width="1.5" fill="none"/>
<path d="M109.5 583.7V598.5M106.1 583.7H112.9M106.1 598.5H112.9" stroke="#111" stroke-width="1.5" fill="none"/>
<path d="M161.4 585.8V593.4M158 585.8H164.8M158 593.4H164.8" stroke="#111" stroke-width="1.5" fill="none"/>
<rect x="54.7" y="588.3" width="6.6" height="6.6" fill="#7d0f14"/>
<rect x="106.2" y="606.6" width="6.6" height="6.6" fill="#7d0f14"/>
<rect x="158.1" y="595.2" width="6.6" height="6.6" fill="#7d0f14"/>
<circle cx="58" cy="587.5" r="3.5" fill="#111"/>
<circle cx="109.5" cy="590.9" r="3.5" fill="#111"/>
<circle cx="161.4" cy="589.6" r="3.5" fill="#111"/>
<path d="M105.45 578.9L105.45 575.4M105.45 578.9L108.78 577.82M105.45 578.9L107.51 581.73M105.45 578.9L103.39 581.73M105.45 578.9L102.12 577.82" stroke="#111" stroke-width="1.7" stroke-linecap="butt" fill="none"/><path d="M113.55 578.9L113.55 575.4M113.55 578.9L116.88 577.82M113.55 578.9L115.61 581.73M113.55 578.9L111.49 581.73M113.55 578.9L110.22 577.82" stroke="#111" stroke-width="1.7" stroke-linecap="butt" fill="none"/>
<path d="M226.4 558.6V634.9H356.1" stroke="#555" stroke-width="1.3" fill="none"/>
<path d="M223.6 559.2H226.4" stroke="#555" stroke-width="1.2"/>
<text x="222.8" y="562.75" font-size="10.3" text-anchor="end" fill="#222" font-weight="normal" font-style="normal" textLength="16.8" lengthAdjust="spacingAndGlyphs">1.5</text>
<path d="M223.6 597.2H226.4" stroke="#555" stroke-width="1.2"/>
<text x="222.8" y="600.75" font-size="10.3" text-anchor="end" fill="#222" font-weight="normal" font-style="normal" textLength="16.8" lengthAdjust="spacingAndGlyphs">1.2</text>
<path d="M223.6 634.9H226.4" stroke="#555" stroke-width="1.2"/>
<text x="222.8" y="638.45" font-size="10.3" text-anchor="end" fill="#222" font-weight="normal" font-style="normal" textLength="16.8" lengthAdjust="spacingAndGlyphs">0.9</text>
<path d="M235.6 634.9V637.1" stroke="#555" stroke-width="1.2"/>
<path d="M287.2 634.9V637.1" stroke="#555" stroke-width="1.2"/>
<path d="M338.6 634.9V637.1" stroke="#555" stroke-width="1.2"/>
<text x="235.6" y="648.5" font-size="10.2" text-anchor="middle" fill="#2a2a2a" font-weight="normal" font-style="normal" textLength="14.3" lengthAdjust="spacingAndGlyphs">0w</text>
<text x="287.2" y="648.5" font-size="10.2" text-anchor="middle" fill="#2a2a2a" font-weight="normal" font-style="normal" textLength="14.3" lengthAdjust="spacingAndGlyphs">3w</text>
<text x="338.6" y="648.5" font-size="10.2" text-anchor="middle" fill="#2a2a2a" font-weight="normal" font-style="normal" textLength="26" lengthAdjust="spacingAndGlyphs">3+3w</text>
<path d="M236.4 568.2H338.9" stroke="#8a8a8a" stroke-width="1.3"/>
<path d="M283.15 564.2L283.15 560.7M283.15 564.2L286.48 563.12M283.15 564.2L285.21 567.03M283.15 564.2L281.09 567.03M283.15 564.2L279.82 563.12" stroke="#7d0f14" stroke-width="1.7" stroke-linecap="butt" fill="none"/><path d="M291.25 564.2L291.25 560.7M291.25 564.2L294.58 563.12M291.25 564.2L293.31 567.03M291.25 564.2L289.19 567.03M291.25 564.2L287.92 563.12" stroke="#7d0f14" stroke-width="1.7" stroke-linecap="butt" fill="none"/>
<polyline points="235.6,610.5 287.2,590.8 338.6,585.9" stroke="#7d0f14" stroke-width="1.3" stroke-dasharray="3 2" fill="none"/>
<polyline points="235.6,606 287.2,601.7 338.6,609.4" stroke="#111" stroke-width="1.3" stroke-dasharray="3 2" fill="none"/>
<path d="M235.6 600.6V615M232.2 600.6H239M232.2 615H239" stroke="#7d0f14" stroke-width="1.5" fill="none"/>
<path d="M287.2 578.9V600M283.8 578.9H290.6M283.8 600H290.6" stroke="#7d0f14" stroke-width="1.5" fill="none"/>
<path d="M338.6 582.5V589.3M335.2 582.5H342M335.2 589.3H342" stroke="#7d0f14" stroke-width="1.5" fill="none"/>
<path d="M235.6 590.8V620.7M232.2 590.8H239M232.2 620.7H239" stroke="#111" stroke-width="1.5" fill="none"/>
<path d="M287.2 590V611.6M283.8 590H290.6M283.8 611.6H290.6" stroke="#111" stroke-width="1.5" fill="none"/>
<path d="M338.6 594.9V623.2M335.2 594.9H342M335.2 623.2H342" stroke="#111" stroke-width="1.5" fill="none"/>
<rect x="232.3" y="607.2" width="6.6" height="6.6" fill="#7d0f14"/>
<rect x="283.9" y="587.5" width="6.6" height="6.6" fill="#7d0f14"/>
<rect x="335.3" y="582.6" width="6.6" height="6.6" fill="#7d0f14"/>
<circle cx="235.6" cy="606" r="3.5" fill="#111"/>
<circle cx="287.2" cy="601.7" r="3.5" fill="#111"/>
<circle cx="338.6" cy="609.4" r="3.5" fill="#111"/>
<path d="M334.55 577.3L334.55 573.8M334.55 577.3L337.88 576.22M334.55 577.3L336.61 580.13M334.55 577.3L332.49 580.13M334.55 577.3L331.22 576.22" stroke="#111" stroke-width="1.7" stroke-linecap="butt" fill="none"/><path d="M342.65 577.3L342.65 573.8M342.65 577.3L345.98 576.22M342.65 577.3L344.71 580.13M342.65 577.3L340.59 580.13M342.65 577.3L339.32 576.22" stroke="#111" stroke-width="1.7" stroke-linecap="butt" fill="none"/>
<path d="M401.2 558.6V634.9H530.8" stroke="#555" stroke-width="1.3" fill="none"/>
<path d="M398.4 559.2H401.2" stroke="#555" stroke-width="1.2"/>
<text x="397.6" y="562.75" font-size="10.3" text-anchor="end" fill="#222" font-weight="normal" font-style="normal" textLength="16.8" lengthAdjust="spacingAndGlyphs">0.4</text>
<path d="M398.4 597.2H401.2" stroke="#555" stroke-width="1.2"/>
<text x="397.6" y="600.75" font-size="10.3" text-anchor="end" fill="#222" font-weight="normal" font-style="normal" textLength="16.8" lengthAdjust="spacingAndGlyphs">0.3</text>
<path d="M398.4 634.9H401.2" stroke="#555" stroke-width="1.2"/>
<text x="397.6" y="638.45" font-size="10.3" text-anchor="end" fill="#222" font-weight="normal" font-style="normal" textLength="16.8" lengthAdjust="spacingAndGlyphs">0.2</text>
<path d="M410.1 634.9V637.1" stroke="#555" stroke-width="1.2"/>
<path d="M461.6 634.9V637.1" stroke="#555" stroke-width="1.2"/>
<path d="M513.3 634.9V637.1" stroke="#555" stroke-width="1.2"/>
<text x="410.1" y="648.5" font-size="10.2" text-anchor="middle" fill="#2a2a2a" font-weight="normal" font-style="normal" textLength="14.3" lengthAdjust="spacingAndGlyphs">0w</text>
<text x="461.6" y="648.5" font-size="10.2" text-anchor="middle" fill="#2a2a2a" font-weight="normal" font-style="normal" textLength="14.3" lengthAdjust="spacingAndGlyphs">3w</text>
<text x="513.3" y="648.5" font-size="10.2" text-anchor="middle" fill="#2a2a2a" font-weight="normal" font-style="normal" textLength="26" lengthAdjust="spacingAndGlyphs">3+3w</text>
<polyline points="410.1,598.3 461.6,584.7 513.3,584.7" stroke="#7d0f14" stroke-width="1.3" stroke-dasharray="3 2" fill="none"/>
<polyline points="410.1,606.7 461.6,612.8 513.3,613.9" stroke="#111" stroke-width="1.3" stroke-dasharray="3 2" fill="none"/>
<path d="M410.1 593.6V602.1M406.7 593.6H413.5M406.7 602.1H413.5" stroke="#7d0f14" stroke-width="1.5" fill="none"/>
<path d="M461.6 578.4V590M458.2 578.4H465M458.2 590H465" stroke="#7d0f14" stroke-width="1.5" fill="none"/>
<path d="M513.3 582V587M509.9 582H516.7M509.9 587H516.7" stroke="#7d0f14" stroke-width="1.5" fill="none"/>
<path d="M410.1 598V616.4M406.7 598H413.5M406.7 616.4H413.5" stroke="#111" stroke-width="1.5" fill="none"/>
<path d="M461.6 592V633.3M458.2 592H465M458.2 633.3H465" stroke="#111" stroke-width="1.5" fill="none"/>
<path d="M513.3 604V623.2M509.9 604H516.7M509.9 623.2H516.7" stroke="#111" stroke-width="1.5" fill="none"/>
<rect x="406.8" y="595" width="6.6" height="6.6" fill="#7d0f14"/>
<rect x="458.3" y="581.4" width="6.6" height="6.6" fill="#7d0f14"/>
<rect x="510" y="581.4" width="6.6" height="6.6" fill="#7d0f14"/>
<circle cx="410.1" cy="606.7" r="3.5" fill="#111"/>
<circle cx="461.6" cy="612.8" r="3.5" fill="#111"/>
<circle cx="513.3" cy="613.9" r="3.5" fill="#111"/>
<path d="M457.55 573.9L457.55 570.4M457.55 573.9L460.88 572.82M457.55 573.9L459.61 576.73M457.55 573.9L455.49 576.73M457.55 573.9L454.22 572.82" stroke="#111" stroke-width="1.7" stroke-linecap="butt" fill="none"/><path d="M465.65 573.9L465.65 570.4M465.65 573.9L468.98 572.82M465.65 573.9L467.71 576.73M465.65 573.9L463.59 576.73M465.65 573.9L462.32 572.82" stroke="#111" stroke-width="1.7" stroke-linecap="butt" fill="none"/>
<path d="M509.25 576.2L509.25 572.7M509.25 576.2L512.58 575.12M509.25 576.2L511.31 579.03M509.25 576.2L507.19 579.03M509.25 576.2L505.92 575.12" stroke="#111" stroke-width="1.7" stroke-linecap="butt" fill="none"/><path d="M517.35 576.2L517.35 572.7M517.35 576.2L520.68 575.12M517.35 576.2L519.41 579.03M517.35 576.2L515.29 579.03M517.35 576.2L514.02 575.12" stroke="#111" stroke-width="1.7" stroke-linecap="butt" fill="none"/>
<path d="M576.6 558.6V635.4H706.5" stroke="#555" stroke-width="1.3" fill="none"/>
<path d="M573.8 559.2H576.6" stroke="#555" stroke-width="1.2"/>
<text x="573" y="562.75" font-size="10.3" text-anchor="end" fill="#222" font-weight="normal" font-style="normal" textLength="16.8" lengthAdjust="spacingAndGlyphs">4.0</text>
<path d="M573.8 584.7H576.6" stroke="#555" stroke-width="1.2"/>
<text x="573" y="588.25" font-size="10.3" text-anchor="end" fill="#222" font-weight="normal" font-style="normal" textLength="16.8" lengthAdjust="spacingAndGlyphs">3.5</text>
<path d="M573.8 610H576.6" stroke="#555" stroke-width="1.2"/>
<text x="573" y="613.55" font-size="10.3" text-anchor="end" fill="#222" font-weight="normal" font-style="normal" textLength="16.8" lengthAdjust="spacingAndGlyphs">3.0</text>
<path d="M585.8 635.4V637.6" stroke="#555" stroke-width="1.2"/>
<path d="M637.5 635.4V637.6" stroke="#555" stroke-width="1.2"/>
<path d="M689 635.4V637.6" stroke="#555" stroke-width="1.2"/>
<text x="585.8" y="649" font-size="10.2" text-anchor="middle" fill="#2a2a2a" font-weight="normal" font-style="normal" textLength="14.3" lengthAdjust="spacingAndGlyphs">0w</text>
<text x="637.5" y="649" font-size="10.2" text-anchor="middle" fill="#2a2a2a" font-weight="normal" font-style="normal" textLength="14.3" lengthAdjust="spacingAndGlyphs">3w</text>
<text x="689" y="649" font-size="10.2" text-anchor="middle" fill="#2a2a2a" font-weight="normal" font-style="normal" textLength="26" lengthAdjust="spacingAndGlyphs">3+3w</text>
<polyline points="585.8,590.8 637.5,596.5 689,606.7" stroke="#7d0f14" stroke-width="1.3" stroke-dasharray="3 2" fill="none"/>
<polyline points="585.8,599.4 637.5,604.4 689,592.4" stroke="#111" stroke-width="1.3" stroke-dasharray="3 2" fill="none"/>
<path d="M585.8 585.2V596M582.4 585.2H589.2M582.4 596H589.2" stroke="#7d0f14" stroke-width="1.5" fill="none"/>
<path d="M637.5 592.4V600.5M634.1 592.4H640.9M634.1 600.5H640.9" stroke="#7d0f14" stroke-width="1.5" fill="none"/>
<path d="M689 600.6V613.4M685.6 600.6H692.4M685.6 613.4H692.4" stroke="#7d0f14" stroke-width="1.5" fill="none"/>
<path d="M585.8 584.7V614.6M582.4 584.7H589.2M582.4 614.6H589.2" stroke="#111" stroke-width="1.5" fill="none"/>
<path d="M637.5 594V613.4M634.1 594H640.9M634.1 613.4H640.9" stroke="#111" stroke-width="1.5" fill="none"/>
<path d="M689 570.5V612M685.6 570.5H692.4M685.6 612H692.4" stroke="#111" stroke-width="1.5" fill="none"/>
<rect x="582.5" y="587.5" width="6.6" height="6.6" fill="#7d0f14"/>
<rect x="634.2" y="593.2" width="6.6" height="6.6" fill="#7d0f14"/>
<rect x="685.7" y="603.4" width="6.6" height="6.6" fill="#7d0f14"/>
<circle cx="585.8" cy="599.4" r="3.5" fill="#111"/>
<circle cx="637.5" cy="604.4" r="3.5" fill="#111"/>
<circle cx="689" cy="592.4" r="3.5" fill="#111"/>
<path d="M49.3 669.7V745.3H178.9" stroke="#555" stroke-width="1.3" fill="none"/>
<path d="M46.5 670.3H49.3" stroke="#555" stroke-width="1.2"/>
<text x="45.7" y="673.85" font-size="10.3" text-anchor="end" fill="#222" font-weight="normal" font-style="normal" textLength="23.7" lengthAdjust="spacingAndGlyphs">0.65</text>
<path d="M46.5 695.8H49.3" stroke="#555" stroke-width="1.2"/>
<text x="45.7" y="699.35" font-size="10.3" text-anchor="end" fill="#222" font-weight="normal" font-style="normal" textLength="23.7" lengthAdjust="spacingAndGlyphs">0.55</text>
<path d="M46.5 720.7H49.3" stroke="#555" stroke-width="1.2"/>
<text x="45.7" y="724.25" font-size="10.3" text-anchor="end" fill="#222" font-weight="normal" font-style="normal" textLength="23.7" lengthAdjust="spacingAndGlyphs">0.45</text>
<path d="M58 745.3V747.5" stroke="#555" stroke-width="1.2"/>
<path d="M109.5 745.3V747.5" stroke="#555" stroke-width="1.2"/>
<path d="M161.4 745.3V747.5" stroke="#555" stroke-width="1.2"/>
<text x="58" y="758.9" font-size="10.2" text-anchor="middle" fill="#2a2a2a" font-weight="normal" font-style="normal" textLength="14.3" lengthAdjust="spacingAndGlyphs">0w</text>
<text x="109.5" y="758.9" font-size="10.2" text-anchor="middle" fill="#2a2a2a" font-weight="normal" font-style="normal" textLength="14.3" lengthAdjust="spacingAndGlyphs">3w</text>
<text x="161.4" y="758.9" font-size="10.2" text-anchor="middle" fill="#2a2a2a" font-weight="normal" font-style="normal" textLength="26" lengthAdjust="spacingAndGlyphs">3+3w</text>
<path d="M109.5 675.4H161.7" stroke="#3c3c3c" stroke-width="1.3"/>
<path d="M135.45 671.4L135.45 667.9M135.45 671.4L138.78 670.32M135.45 671.4L137.51 674.23M135.45 671.4L133.39 674.23M135.45 671.4L132.12 670.32" stroke="#7d0f14" stroke-width="1.7" stroke-linecap="butt" fill="none"/>
<path d="M58.8 684.3H161.7" stroke="#3c3c3c" stroke-width="1.3"/>
<path d="M105.45 680.3L105.45 676.8M105.45 680.3L108.78 679.22M105.45 680.3L107.51 683.13M105.45 680.3L103.39 683.13M105.45 680.3L102.12 679.22" stroke="#7d0f14" stroke-width="1.7" stroke-linecap="butt" fill="none"/><path d="M113.55 680.3L113.55 676.8M113.55 680.3L116.88 679.22M113.55 680.3L115.61 683.13M113.55 680.3L111.49 683.13M113.55 680.3L110.22 679.22" stroke="#7d0f14" stroke-width="1.7" stroke-linecap="butt" fill="none"/>
<polyline points="58,700.1 109.5,712.3 161.4,723" stroke="#7d0f14" stroke-width="1.3" stroke-dasharray="3 2" fill="none"/>
<polyline points="58,703.9 109.5,705.4 161.4,708.5" stroke="#111" stroke-width="1.3" stroke-dasharray="3 2" fill="none"/>
<path d="M58 695V705M54.6 695H61.4M54.6 705H61.4" stroke="#7d0f14" stroke-width="1.5" fill="none"/>
<path d="M109.5 708.5V716M106.1 708.5H112.9M106.1 716H112.9" stroke="#7d0f14" stroke-width="1.5" fill="none"/>
<path d="M161.4 715.3V730.6M158 715.3H164.8M158 730.6H164.8" stroke="#7d0f14" stroke-width="1.5" fill="none"/>
<path d="M58 699.6V708.5M54.6 699.6H61.4M54.6 708.5H61.4" stroke="#111" stroke-width="1.5" fill="none"/>
<path d="M109.5 695.8V710M106.1 695.8H112.9M106.1 710H112.9" stroke="#111" stroke-width="1.5" fill="none"/>
<path d="M161.4 707V710M158 707H164.8M158 710H164.8" stroke="#111" stroke-width="1.5" fill="none"/>
<rect x="54.7" y="696.8" width="6.6" height="6.6" fill="#7d0f14"/>
<rect x="106.2" y="709" width="6.6" height="6.6" fill="#7d0f14"/>
<rect x="158.1" y="719.7" width="6.6" height="6.6" fill="#7d0f14"/>
<circle cx="58" cy="703.9" r="3.5" fill="#111"/>
<circle cx="109.5" cy="705.4" r="3.5" fill="#111"/>
<circle cx="161.4" cy="708.5" r="3.5" fill="#111"/>
<path d="M157.35 699.6L157.35 696.1M157.35 699.6L160.68 698.52M157.35 699.6L159.41 702.43M157.35 699.6L155.29 702.43M157.35 699.6L154.02 698.52" stroke="#111" stroke-width="1.7" stroke-linecap="butt" fill="none"/><path d="M165.45 699.6L165.45 696.1M165.45 699.6L168.78 698.52M165.45 699.6L167.51 702.43M165.45 699.6L163.39 702.43M165.45 699.6L162.12 698.52" stroke="#111" stroke-width="1.7" stroke-linecap="butt" fill="none"/>
<path d="M226.4 669.7V744.9H356.1" stroke="#555" stroke-width="1.3" fill="none"/>
<path d="M223.6 670.3H226.4" stroke="#555" stroke-width="1.2"/>
<text x="222.8" y="673.85" font-size="10.3" text-anchor="end" fill="#222" font-weight="normal" font-style="normal" textLength="16.8" lengthAdjust="spacingAndGlyphs">0.9</text>
<path d="M223.6 700.2H226.4" stroke="#555" stroke-width="1.2"/>
<text x="222.8" y="703.75" font-size="10.3" text-anchor="end" fill="#222" font-weight="normal" font-style="normal" textLength="16.8" lengthAdjust="spacingAndGlyphs">0.8</text>
<path d="M223.6 730.2H226.4" stroke="#555" stroke-width="1.2"/>
<text x="222.8" y="733.75" font-size="10.3" text-anchor="end" fill="#222" font-weight="normal" font-style="normal" textLength="16.8" lengthAdjust="spacingAndGlyphs">0.7</text>
<path d="M235.6 744.9V747.1" stroke="#555" stroke-width="1.2"/>
<path d="M287.2 744.9V747.1" stroke="#555" stroke-width="1.2"/>
<path d="M338.6 744.9V747.1" stroke="#555" stroke-width="1.2"/>
<text x="235.6" y="758.5" font-size="10.2" text-anchor="middle" fill="#2a2a2a" font-weight="normal" font-style="normal" textLength="14.3" lengthAdjust="spacingAndGlyphs">0w</text>
<text x="287.2" y="758.5" font-size="10.2" text-anchor="middle" fill="#2a2a2a" font-weight="normal" font-style="normal" textLength="14.3" lengthAdjust="spacingAndGlyphs">3w</text>
<text x="338.6" y="758.5" font-size="10.2" text-anchor="middle" fill="#2a2a2a" font-weight="normal" font-style="normal" textLength="26" lengthAdjust="spacingAndGlyphs">3+3w</text>
<path d="M287.2 675.5H338.9" stroke="#8a8a8a" stroke-width="1.3"/>
<path d="M308.85 671.5L308.85 668M308.85 671.5L312.18 670.42M308.85 671.5L310.91 674.33M308.85 671.5L306.79 674.33M308.85 671.5L305.52 670.42" stroke="#7d0f14" stroke-width="1.7" stroke-linecap="butt" fill="none"/><path d="M316.95 671.5L316.95 668M316.95 671.5L320.28 670.42M316.95 671.5L319.01 674.33M316.95 671.5L314.89 674.33M316.95 671.5L313.62 670.42" stroke="#7d0f14" stroke-width="1.7" stroke-linecap="butt" fill="none"/>
<path d="M236.4 685H338.9" stroke="#3c3c3c" stroke-width="1.3"/>
<path d="M283.15 681L283.15 677.5M283.15 681L286.48 679.92M283.15 681L285.21 683.83M283.15 681L281.09 683.83M283.15 681L279.82 679.92" stroke="#7d0f14" stroke-width="1.7" stroke-linecap="butt" fill="none"/><path d="M291.25 681L291.25 677.5M291.25 681L294.58 679.92M291.25 681L293.31 683.83M291.25 681L289.19 683.83M291.25 681L287.92 679.92" stroke="#7d0f14" stroke-width="1.7" stroke-linecap="butt" fill="none"/>
<polyline points="235.6,725.7 287.2,717.3 338.6,699.3" stroke="#7d0f14" stroke-width="1.3" stroke-dasharray="3 2" fill="none"/>
<polyline points="235.6,722.8 287.2,720.5 338.6,716.7" stroke="#111" stroke-width="1.3" stroke-dasharray="3 2" fill="none"/>
<path d="M235.6 721V730M232.2 721H239M232.2 730H239" stroke="#7d0f14" stroke-width="1.5" fill="none"/>
<path d="M287.2 711V722M283.8 711H290.6M283.8 722H290.6" stroke="#7d0f14" stroke-width="1.5" fill="none"/>
<path d="M338.6 697.5V701M335.2 697.5H342M335.2 701H342" stroke="#7d0f14" stroke-width="1.5" fill="none"/>
<path d="M235.6 717.1V728M232.2 717.1H239M232.2 728H239" stroke="#111" stroke-width="1.5" fill="none"/>
<path d="M287.2 710.5V730.2M283.8 710.5H290.6M283.8 730.2H290.6" stroke="#111" stroke-width="1.5" fill="none"/>
<path d="M338.6 712.1V720M335.2 712.1H342M335.2 720H342" stroke="#111" stroke-width="1.5" fill="none"/>
<rect x="232.3" y="722.4" width="6.6" height="6.6" fill="#7d0f14"/>
<rect x="283.9" y="714" width="6.6" height="6.6" fill="#7d0f14"/>
<rect x="335.3" y="696" width="6.6" height="6.6" fill="#7d0f14"/>
<circle cx="235.6" cy="722.8" r="3.5" fill="#111"/>
<circle cx="287.2" cy="720.5" r="3.5" fill="#111"/>
<circle cx="338.6" cy="716.7" r="3.5" fill="#111"/>
<path d="M330.5 691.8L330.5 688.3M330.5 691.8L333.83 690.72M330.5 691.8L332.56 694.63M330.5 691.8L328.44 694.63M330.5 691.8L327.17 690.72" stroke="#111" stroke-width="1.7" stroke-linecap="butt" fill="none"/><path d="M338.6 691.8L338.6 688.3M338.6 691.8L341.93 690.72M338.6 691.8L340.66 694.63M338.6 691.8L336.54 694.63M338.6 691.8L335.27 690.72" stroke="#111" stroke-width="1.7" stroke-linecap="butt" fill="none"/><path d="M346.7 691.8L346.7 688.3M346.7 691.8L350.03 690.72M346.7 691.8L348.76 694.63M346.7 691.8L344.64 694.63M346.7 691.8L343.37 690.72" stroke="#111" stroke-width="1.7" stroke-linecap="butt" fill="none"/>
<path d="M401.2 670.4V744.9H530.8" stroke="#555" stroke-width="1.3" fill="none"/>
<path d="M398.4 671H401.2" stroke="#555" stroke-width="1.2"/>
<text x="397.6" y="674.55" font-size="10.3" text-anchor="end" fill="#222" font-weight="normal" font-style="normal" textLength="16.8" lengthAdjust="spacingAndGlyphs">0.6</text>
<path d="M398.4 700.8H401.2" stroke="#555" stroke-width="1.2"/>
<text x="397.6" y="704.35" font-size="10.3" text-anchor="end" fill="#222" font-weight="normal" font-style="normal" textLength="16.8" lengthAdjust="spacingAndGlyphs">0.4</text>
<path d="M398.4 730.2H401.2" stroke="#555" stroke-width="1.2"/>
<text x="397.6" y="733.75" font-size="10.3" text-anchor="end" fill="#222" font-weight="normal" font-style="normal" textLength="16.8" lengthAdjust="spacingAndGlyphs">0.2</text>
<path d="M410.1 744.9V747.1" stroke="#555" stroke-width="1.2"/>
<path d="M461.6 744.9V747.1" stroke="#555" stroke-width="1.2"/>
<path d="M513.3 744.9V747.1" stroke="#555" stroke-width="1.2"/>
<text x="410.1" y="758.5" font-size="10.2" text-anchor="middle" fill="#2a2a2a" font-weight="normal" font-style="normal" textLength="14.3" lengthAdjust="spacingAndGlyphs">0w</text>
<text x="461.6" y="758.5" font-size="10.2" text-anchor="middle" fill="#2a2a2a" font-weight="normal" font-style="normal" textLength="14.3" lengthAdjust="spacingAndGlyphs">3w</text>
<text x="513.3" y="758.5" font-size="10.2" text-anchor="middle" fill="#2a2a2a" font-weight="normal" font-style="normal" textLength="26" lengthAdjust="spacingAndGlyphs">3+3w</text>
<path d="M461.6 676.4H513.6" stroke="#3c3c3c" stroke-width="1.3"/>
<path d="M487.45 672.4L487.45 668.9M487.45 672.4L490.78 671.32M487.45 672.4L489.51 675.23M487.45 672.4L485.39 675.23M487.45 672.4L484.12 671.32" stroke="#7d0f14" stroke-width="1.7" stroke-linecap="butt" fill="none"/>
<path d="M410.9 685.5H513.6" stroke="#8a8a8a" stroke-width="1.3"/>
<path d="M457.55 681.5L457.55 678M457.55 681.5L460.88 680.42M457.55 681.5L459.61 684.33M457.55 681.5L455.49 684.33M457.55 681.5L454.22 680.42" stroke="#7d0f14" stroke-width="1.7" stroke-linecap="butt" fill="none"/><path d="M465.65 681.5L465.65 678M465.65 681.5L468.98 680.42M465.65 681.5L467.71 684.33M465.65 681.5L463.59 684.33M465.65 681.5L462.32 680.42" stroke="#7d0f14" stroke-width="1.7" stroke-linecap="butt" fill="none"/>
<polyline points="410.1,713.7 461.6,711 513.3,703.8" stroke="#7d0f14" stroke-width="1.3" stroke-dasharray="3 2" fill="none"/>
<polyline points="410.1,715.5 461.6,723.4 513.3,723.9" stroke="#111" stroke-width="1.3" stroke-dasharray="3 2" fill="none"/>
<path d="M410.1 708V720M406.7 708H413.5M406.7 720H413.5" stroke="#7d0f14" stroke-width="1.5" fill="none"/>
<path d="M461.6 709V713M458.2 709H465M458.2 713H465" stroke="#7d0f14" stroke-width="1.5" fill="none"/>
<path d="M513.3 702V705.5M509.9 702H516.7M509.9 705.5H516.7" stroke="#7d0f14" stroke-width="1.5" fill="none"/>
<path d="M410.1 709.9V721.2M406.7 709.9H413.5M406.7 721.2H413.5" stroke="#111" stroke-width="1.5" fill="none"/>
<path d="M461.6 718.5V728M458.2 718.5H465M458.2 728H465" stroke="#111" stroke-width="1.5" fill="none"/>
<path d="M513.3 717.8V729.5M509.9 717.8H516.7M509.9 729.5H516.7" stroke="#111" stroke-width="1.5" fill="none"/>
<rect x="406.8" y="710.4" width="6.6" height="6.6" fill="#7d0f14"/>
<rect x="458.3" y="707.7" width="6.6" height="6.6" fill="#7d0f14"/>
<rect x="510" y="700.5" width="6.6" height="6.6" fill="#7d0f14"/>
<circle cx="410.1" cy="715.5" r="3.5" fill="#111"/>
<circle cx="461.6" cy="723.4" r="3.5" fill="#111"/>
<circle cx="513.3" cy="723.9" r="3.5" fill="#111"/>
<path d="M457.55 700.2L457.55 696.7M457.55 700.2L460.88 699.12M457.55 700.2L459.61 703.03M457.55 700.2L455.49 703.03M457.55 700.2L454.22 699.12" stroke="#111" stroke-width="1.7" stroke-linecap="butt" fill="none"/><path d="M465.65 700.2L465.65 696.7M465.65 700.2L468.98 699.12M465.65 700.2L467.71 703.03M465.65 700.2L463.59 703.03M465.65 700.2L462.32 699.12" stroke="#111" stroke-width="1.7" stroke-linecap="butt" fill="none"/>
<path d="M501.15 694L501.15 690.5M501.15 694L504.48 692.92M501.15 694L503.21 696.83M501.15 694L499.09 696.83M501.15 694L497.82 692.92" stroke="#111" stroke-width="1.7" stroke-linecap="butt" fill="none"/><path d="M509.25 694L509.25 690.5M509.25 694L512.58 692.92M509.25 694L511.31 696.83M509.25 694L507.19 696.83M509.25 694L505.92 692.92" stroke="#111" stroke-width="1.7" stroke-linecap="butt" fill="none"/><path d="M517.35 694L517.35 690.5M517.35 694L520.68 692.92M517.35 694L519.41 696.83M517.35 694L515.29 696.83M517.35 694L514.02 692.92" stroke="#111" stroke-width="1.7" stroke-linecap="butt" fill="none"/><path d="M525.45 694L525.45 690.5M525.45 694L528.78 692.92M525.45 694L527.51 696.83M525.45 694L523.39 696.83M525.45 694L522.12 692.92" stroke="#111" stroke-width="1.7" stroke-linecap="butt" fill="none"/>
<path d="M576.6 670.2V745.4H706.5" stroke="#555" stroke-width="1.3" fill="none"/>
<path d="M573.8 670.8H576.6" stroke="#555" stroke-width="1.2"/>
<text x="573" y="674.35" font-size="10.3" text-anchor="end" fill="#222" font-weight="normal" font-style="normal" textLength="16.8" lengthAdjust="spacingAndGlyphs">4.0</text>
<path d="M573.8 708.1H576.6" stroke="#555" stroke-width="1.2"/>
<text x="573" y="711.65" font-size="10.3" text-anchor="end" fill="#222" font-weight="normal" font-style="normal" textLength="16.8" lengthAdjust="spacingAndGlyphs">2.0</text>
<path d="M573.8 745.4H576.6" stroke="#555" stroke-width="1.2"/>
<text x="573" y="748.95" font-size="10.3" text-anchor="end" fill="#222" font-weight="normal" font-style="normal" textLength="16.8" lengthAdjust="spacingAndGlyphs">0.0</text>
<path d="M585.8 745.4V747.6" stroke="#555" stroke-width="1.2"/>
<path d="M637.5 745.4V747.6" stroke="#555" stroke-width="1.2"/>
<path d="M689 745.4V747.6" stroke="#555" stroke-width="1.2"/>
<text x="585.8" y="759" font-size="10.2" text-anchor="middle" fill="#2a2a2a" font-weight="normal" font-style="normal" textLength="14.3" lengthAdjust="spacingAndGlyphs">0w</text>
<text x="637.5" y="759" font-size="10.2" text-anchor="middle" fill="#2a2a2a" font-weight="normal" font-style="normal" textLength="14.3" lengthAdjust="spacingAndGlyphs">3w</text>
<text x="689" y="759" font-size="10.2" text-anchor="middle" fill="#2a2a2a" font-weight="normal" font-style="normal" textLength="26" lengthAdjust="spacingAndGlyphs">3+3w</text>
<polyline points="585.8,703.1 637.5,696.8 689,704.7" stroke="#7d0f14" stroke-width="1.3" stroke-dasharray="3 2" fill="none"/>
<polyline points="585.8,704.9 637.5,704.2 689,701.5" stroke="#111" stroke-width="1.3" stroke-dasharray="3 2" fill="none"/>
<path d="M585.8 702V704.5M582.4 702H589.2M582.4 704.5H589.2" stroke="#7d0f14" stroke-width="1.5" fill="none"/>
<path d="M637.5 695.5V698M634.1 695.5H640.9M634.1 698H640.9" stroke="#7d0f14" stroke-width="1.5" fill="none"/>
<path d="M689 703V706.5M685.6 703H692.4M685.6 706.5H692.4" stroke="#7d0f14" stroke-width="1.5" fill="none"/>
<path d="M585.8 703V707M582.4 703H589.2M582.4 707H589.2" stroke="#111" stroke-width="1.5" fill="none"/>
<path d="M637.5 703V705.5M634.1 703H640.9M634.1 705.5H640.9" stroke="#111" stroke-width="1.5" fill="none"/>
<path d="M689 700V703M685.6 700H692.4M685.6 703H692.4" stroke="#111" stroke-width="1.5" fill="none"/>
<rect x="582.5" y="699.8" width="6.6" height="6.6" fill="#7d0f14"/>
<rect x="634.2" y="693.5" width="6.6" height="6.6" fill="#7d0f14"/>
<rect x="685.7" y="701.4" width="6.6" height="6.6" fill="#7d0f14"/>
<circle cx="585.8" cy="704.9" r="3.5" fill="#111"/>
<circle cx="637.5" cy="704.2" r="3.5" fill="#111"/>
<circle cx="689" cy="701.5" r="3.5" fill="#111"/>
<path d="M633.45 688.9L633.45 685.4M633.45 688.9L636.78 687.82M633.45 688.9L635.51 691.73M633.45 688.9L631.39 691.73M633.45 688.9L630.12 687.82" stroke="#111" stroke-width="1.7" stroke-linecap="butt" fill="none"/><path d="M641.55 688.9L641.55 685.4M641.55 688.9L644.88 687.82M641.55 688.9L643.61 691.73M641.55 688.9L639.49 691.73M641.55 688.9L638.22 687.82" stroke="#111" stroke-width="1.7" stroke-linecap="butt" fill="none"/>
<path d="M49.3 777.5V851.1H178.9" stroke="#555" stroke-width="1.3" fill="none"/>
<path d="M46.5 778.1H49.3" stroke="#555" stroke-width="1.2"/>
<text x="45.7" y="781.65" font-size="10.3" text-anchor="end" fill="#222" font-weight="normal" font-style="normal" textLength="23.7" lengthAdjust="spacingAndGlyphs">0.25</text>
<path d="M46.5 814.5H49.3" stroke="#555" stroke-width="1.2"/>
<text x="45.7" y="818.05" font-size="10.3" text-anchor="end" fill="#222" font-weight="normal" font-style="normal" textLength="23.7" lengthAdjust="spacingAndGlyphs">0.15</text>
<path d="M46.5 851.1H49.3" stroke="#555" stroke-width="1.2"/>
<text x="45.7" y="854.65" font-size="10.3" text-anchor="end" fill="#222" font-weight="normal" font-style="normal" textLength="23.7" lengthAdjust="spacingAndGlyphs">0.05</text>
<path d="M58 851.1V853.3" stroke="#555" stroke-width="1.2"/>
<path d="M109.5 851.1V853.3" stroke="#555" stroke-width="1.2"/>
<path d="M161.4 851.1V853.3" stroke="#555" stroke-width="1.2"/>
<text x="58" y="864.7" font-size="10.2" text-anchor="middle" fill="#2a2a2a" font-weight="normal" font-style="normal" textLength="14.3" lengthAdjust="spacingAndGlyphs">0w</text>
<text x="109.5" y="864.7" font-size="10.2" text-anchor="middle" fill="#2a2a2a" font-weight="normal" font-style="normal" textLength="14.3" lengthAdjust="spacingAndGlyphs">3w</text>
<text x="161.4" y="864.7" font-size="10.2" text-anchor="middle" fill="#2a2a2a" font-weight="normal" font-style="normal" textLength="26" lengthAdjust="spacingAndGlyphs">3+3w</text>
<polyline points="58,799 109.5,806.6 161.4,808.6" stroke="#7d0f14" stroke-width="1.3" stroke-dasharray="3 2" fill="none"/>
<polyline points="58,796.4 109.5,801.8 161.4,802.3" stroke="#111" stroke-width="1.3" stroke-dasharray="3 2" fill="none"/>
<path d="M58 793.4V805.6M54.6 793.4H61.4M54.6 805.6H61.4" stroke="#7d0f14" stroke-width="1.5" fill="none"/>
<path d="M109.5 785.8V828.5M106.1 785.8H112.9M106.1 828.5H112.9" stroke="#7d0f14" stroke-width="1.5" fill="none"/>
<path d="M161.4 792.1V825.9M158 792.1H164.8M158 825.9H164.8" stroke="#7d0f14" stroke-width="1.5" fill="none"/>
<path d="M58 792.9V800M54.6 792.9H61.4M54.6 800H61.4" stroke="#111" stroke-width="1.5" fill="none"/>
<path d="M109.5 794.7V808M106.1 794.7H112.9M106.1 808H112.9" stroke="#111" stroke-width="1.5" fill="none"/>
<path d="M161.4 800.5V804M158 800.5H164.8M158 804H164.8" stroke="#111" stroke-width="1.5" fill="none"/>
<rect x="54.7" y="795.7" width="6.6" height="6.6" fill="#7d0f14"/>
<rect x="106.2" y="803.3" width="6.6" height="6.6" fill="#7d0f14"/>
<rect x="158.1" y="805.3" width="6.6" height="6.6" fill="#7d0f14"/>
<circle cx="58" cy="796.4" r="3.5" fill="#111"/>
<circle cx="109.5" cy="801.8" r="3.5" fill="#111"/>
<circle cx="161.4" cy="802.3" r="3.5" fill="#111"/>
<path d="M226.4 777.6V852.1H356.1" stroke="#555" stroke-width="1.3" fill="none"/>
<path d="M223.6 778.2H226.4" stroke="#555" stroke-width="1.2"/>
<text x="222.8" y="781.75" font-size="10.3" text-anchor="end" fill="#222" font-weight="normal" font-style="normal" textLength="16.8" lengthAdjust="spacingAndGlyphs">1.6</text>
<path d="M223.6 805.8H226.4" stroke="#555" stroke-width="1.2"/>
<text x="222.8" y="809.35" font-size="10.3" text-anchor="end" fill="#222" font-weight="normal" font-style="normal" textLength="16.8" lengthAdjust="spacingAndGlyphs">1.3</text>
<path d="M223.6 833.6H226.4" stroke="#555" stroke-width="1.2"/>
<text x="222.8" y="837.15" font-size="10.3" text-anchor="end" fill="#222" font-weight="normal" font-style="normal" textLength="16.8" lengthAdjust="spacingAndGlyphs">1.0</text>
<path d="M235.6 852.1V854.3" stroke="#555" stroke-width="1.2"/>
<path d="M287.2 852.1V854.3" stroke="#555" stroke-width="1.2"/>
<path d="M338.6 852.1V854.3" stroke="#555" stroke-width="1.2"/>
<text x="235.6" y="865.7" font-size="10.2" text-anchor="middle" fill="#2a2a2a" font-weight="normal" font-style="normal" textLength="14.3" lengthAdjust="spacingAndGlyphs">0w</text>
<text x="287.2" y="865.7" font-size="10.2" text-anchor="middle" fill="#2a2a2a" font-weight="normal" font-style="normal" textLength="14.3" lengthAdjust="spacingAndGlyphs">3w</text>
<text x="338.6" y="865.7" font-size="10.2" text-anchor="middle" fill="#2a2a2a" font-weight="normal" font-style="normal" textLength="26" lengthAdjust="spacingAndGlyphs">3+3w</text>
<polyline points="235.6,830.2 287.2,831.4 338.6,829.1" stroke="#7d0f14" stroke-width="1.3" stroke-dasharray="3 2" fill="none"/>
<polyline points="235.6,826.8 287.2,828.6 338.6,808.1" stroke="#111" stroke-width="1.3" stroke-dasharray="3 2" fill="none"/>
<path d="M235.6 817.3V843.8M232.2 817.3H239M232.2 843.8H239" stroke="#7d0f14" stroke-width="1.5" fill="none"/>
<path d="M287.2 826V837M283.8 826H290.6M283.8 837H290.6" stroke="#7d0f14" stroke-width="1.5" fill="none"/>
<path d="M338.6 824V834M335.2 824H342M335.2 834H342" stroke="#7d0f14" stroke-width="1.5" fill="none"/>
<path d="M235.6 822.3V832M232.2 822.3H239M232.2 832H239" stroke="#111" stroke-width="1.5" fill="none"/>
<path d="M287.2 827V830.5M283.8 827H290.6M283.8 830.5H290.6" stroke="#111" stroke-width="1.5" fill="none"/>
<path d="M338.6 779.8V835.9M335.2 779.8H342M335.2 835.9H342" stroke="#111" stroke-width="1.5" fill="none"/>
<rect x="232.3" y="826.9" width="6.6" height="6.6" fill="#7d0f14"/>
<rect x="283.9" y="828.1" width="6.6" height="6.6" fill="#7d0f14"/>
<rect x="335.3" y="825.8" width="6.6" height="6.6" fill="#7d0f14"/>
<circle cx="235.6" cy="826.8" r="3.5" fill="#111"/>
<circle cx="287.2" cy="828.6" r="3.5" fill="#111"/>
<circle cx="338.6" cy="808.1" r="3.5" fill="#111"/>
<path d="M401.2 778.3V852.8H530.8" stroke="#555" stroke-width="1.3" fill="none"/>
<path d="M398.4 778.9H401.2" stroke="#555" stroke-width="1.2"/>
<text x="397.6" y="782.45" font-size="10.3" text-anchor="end" fill="#222" font-weight="normal" font-style="normal" textLength="16.8" lengthAdjust="spacingAndGlyphs">1.2</text>
<path d="M398.4 816H401.2" stroke="#555" stroke-width="1.2"/>
<text x="397.6" y="819.55" font-size="10.3" text-anchor="end" fill="#222" font-weight="normal" font-style="normal" textLength="16.8" lengthAdjust="spacingAndGlyphs">1.0</text>
<path d="M398.4 852.8H401.2" stroke="#555" stroke-width="1.2"/>
<text x="397.6" y="856.35" font-size="10.3" text-anchor="end" fill="#222" font-weight="normal" font-style="normal" textLength="16.8" lengthAdjust="spacingAndGlyphs">0.8</text>
<path d="M410.1 852.8V855" stroke="#555" stroke-width="1.2"/>
<path d="M461.6 852.8V855" stroke="#555" stroke-width="1.2"/>
<path d="M513.3 852.8V855" stroke="#555" stroke-width="1.2"/>
<text x="410.1" y="866.4" font-size="10.2" text-anchor="middle" fill="#2a2a2a" font-weight="normal" font-style="normal" textLength="14.3" lengthAdjust="spacingAndGlyphs">0w</text>
<text x="461.6" y="866.4" font-size="10.2" text-anchor="middle" fill="#2a2a2a" font-weight="normal" font-style="normal" textLength="14.3" lengthAdjust="spacingAndGlyphs">3w</text>
<text x="513.3" y="866.4" font-size="10.2" text-anchor="middle" fill="#2a2a2a" font-weight="normal" font-style="normal" textLength="26" lengthAdjust="spacingAndGlyphs">3+3w</text>
<polyline points="410.1,821.9 461.6,809.2 513.3,822.8" stroke="#7d0f14" stroke-width="1.3" stroke-dasharray="3 2" fill="none"/>
<polyline points="410.1,814 461.6,816.2 513.3,815.5" stroke="#111" stroke-width="1.3" stroke-dasharray="3 2" fill="none"/>
<path d="M410.1 798.1V844.9M406.7 798.1H413.5M406.7 844.9H413.5" stroke="#7d0f14" stroke-width="1.5" fill="none"/>
<path d="M461.6 795.6V815M458.2 795.6H465M458.2 815H465" stroke="#7d0f14" stroke-width="1.5" fill="none"/>
<path d="M513.3 816V830.9M509.9 816H516.7M509.9 830.9H516.7" stroke="#7d0f14" stroke-width="1.5" fill="none"/>
<path d="M410.1 803.1V820M406.7 803.1H413.5M406.7 820H413.5" stroke="#111" stroke-width="1.5" fill="none"/>
<path d="M461.6 806V823.4M458.2 806H465M458.2 823.4H465" stroke="#111" stroke-width="1.5" fill="none"/>
<path d="M513.3 807.6V822M509.9 807.6H516.7M509.9 822H516.7" stroke="#111" stroke-width="1.5" fill="none"/>
<rect x="406.8" y="818.6" width="6.6" height="6.6" fill="#7d0f14"/>
<rect x="458.3" y="805.9" width="6.6" height="6.6" fill="#7d0f14"/>
<rect x="510" y="819.5" width="6.6" height="6.6" fill="#7d0f14"/>
<circle cx="410.1" cy="814" r="3.5" fill="#111"/>
<circle cx="461.6" cy="816.2" r="3.5" fill="#111"/>
<circle cx="513.3" cy="815.5" r="3.5" fill="#111"/>
<path d="M576.6 777.6V852.1H706.5" stroke="#555" stroke-width="1.3" fill="none"/>
<path d="M573.8 778.2H576.6" stroke="#555" stroke-width="1.2"/>
<text x="573" y="781.75" font-size="10.3" text-anchor="end" fill="#222" font-weight="normal" font-style="normal" textLength="16.8" lengthAdjust="spacingAndGlyphs">2.0</text>
<path d="M573.8 802.7H576.6" stroke="#555" stroke-width="1.2"/>
<text x="573" y="806.25" font-size="10.3" text-anchor="end" fill="#222" font-weight="normal" font-style="normal" textLength="16.8" lengthAdjust="spacingAndGlyphs">1.5</text>
<path d="M573.8 827.3H576.6" stroke="#555" stroke-width="1.2"/>
<text x="573" y="830.85" font-size="10.3" text-anchor="end" fill="#222" font-weight="normal" font-style="normal" textLength="16.8" lengthAdjust="spacingAndGlyphs">1.0</text>
<path d="M585.8 852.1V854.3" stroke="#555" stroke-width="1.2"/>
<path d="M637.5 852.1V854.3" stroke="#555" stroke-width="1.2"/>
<path d="M689 852.1V854.3" stroke="#555" stroke-width="1.2"/>
<text x="585.8" y="865.7" font-size="10.2" text-anchor="middle" fill="#2a2a2a" font-weight="normal" font-style="normal" textLength="14.3" lengthAdjust="spacingAndGlyphs">0w</text>
<text x="637.5" y="865.7" font-size="10.2" text-anchor="middle" fill="#2a2a2a" font-weight="normal" font-style="normal" textLength="14.3" lengthAdjust="spacingAndGlyphs">3w</text>
<text x="689" y="865.7" font-size="10.2" text-anchor="middle" fill="#2a2a2a" font-weight="normal" font-style="normal" textLength="26" lengthAdjust="spacingAndGlyphs">3+3w</text>
<polyline points="585.8,818.9 637.5,818.5 689,820" stroke="#7d0f14" stroke-width="1.3" stroke-dasharray="3 2" fill="none"/>
<polyline points="585.8,818.5 637.5,809.2 689,816.7" stroke="#111" stroke-width="1.3" stroke-dasharray="3 2" fill="none"/>
<path d="M585.8 812.8V825.7M582.4 812.8H589.2M582.4 825.7H589.2" stroke="#7d0f14" stroke-width="1.5" fill="none"/>
<path d="M637.5 817V820M634.1 817H640.9M634.1 820H640.9" stroke="#7d0f14" stroke-width="1.5" fill="none"/>
<path d="M689 813V825.7M685.6 813H692.4M685.6 825.7H692.4" stroke="#7d0f14" stroke-width="1.5" fill="none"/>
<path d="M585.8 813.7V823.4M582.4 813.7H589.2M582.4 823.4H589.2" stroke="#111" stroke-width="1.5" fill="none"/>
<path d="M637.5 790.7V828M634.1 790.7H640.9M634.1 828H640.9" stroke="#111" stroke-width="1.5" fill="none"/>
<path d="M689 813.7V820M685.6 813.7H692.4M685.6 820H692.4" stroke="#111" stroke-width="1.5" fill="none"/>
<rect x="582.5" y="815.6" width="6.6" height="6.6" fill="#7d0f14"/>
<rect x="634.2" y="815.2" width="6.6" height="6.6" fill="#7d0f14"/>
<rect x="685.7" y="816.7" width="6.6" height="6.6" fill="#7d0f14"/>
<circle cx="585.8" cy="818.5" r="3.5" fill="#111"/>
<circle cx="637.5" cy="809.2" r="3.5" fill="#111"/>
<circle cx="689" cy="816.7" r="3.5" fill="#111"/>
<circle cx="59.6" cy="395.6" r="3.5" fill="#111"/><rect x="56.5" y="401" width="6.6" height="6.6" fill="#7d0f14"/>
<path d="M55.5 395.6H63.7" stroke="#111" stroke-width="1.4"/><path d="M55.5 404.3H63.7" stroke="#7d0f14" stroke-width="1.4"/>
<text x="69.5" y="398.1" font-size="8.4" text-anchor="start" fill="#2a2a2a" font-weight="normal" font-style="normal" textLength="24" lengthAdjust="spacingAndGlyphs">CTRL</text>
<text x="69.5" y="406.8" font-size="8.4" text-anchor="start" fill="#2a2a2a" font-weight="normal" font-style="normal" textLength="18.5" lengthAdjust="spacingAndGlyphs">CPZ</text>
<text x="107.2" y="310.8" font-size="12" text-anchor="start" fill="#111" font-weight="bold" font-style="normal" textLength="14" lengthAdjust="spacingAndGlyphs">FA</text>
<text x="249.6" y="310.8" font-size="12" text-anchor="start" fill="#111" font-weight="bold" font-style="normal" textLength="25.2" lengthAdjust="spacingAndGlyphs">ADC</text>
<text x="278" y="311.1" font-size="12" text-anchor="start" fill="#111" font-weight="bold" font-style="normal" textLength="26" lengthAdjust="spacingAndGlyphs">(mm</text><text x="304.1" y="306.6" font-size="7.6" text-anchor="start" fill="#111" font-weight="bold" font-style="normal" textLength="5" lengthAdjust="spacingAndGlyphs">2</text><text x="309.3" y="311.1" font-size="12" text-anchor="start" fill="#111" font-weight="bold" font-style="normal" textLength="16.6" lengthAdjust="spacingAndGlyphs">/s)</text>
<text x="427.4" y="310.8" font-size="12" text-anchor="start" fill="#111" font-weight="bold" font-style="normal" textLength="8.6" lengthAdjust="spacingAndGlyphs">λ</text>
<path d="M438.4 307.4V312.6M435.6 312.6H441.2" stroke="#111" stroke-width="1.3" fill="none"/>
<text x="444.2" y="311.1" font-size="12" text-anchor="start" fill="#111" font-weight="bold" font-style="normal" textLength="26" lengthAdjust="spacingAndGlyphs">(mm</text><text x="470.3" y="306.6" font-size="7.6" text-anchor="start" fill="#111" font-weight="bold" font-style="normal" textLength="5" lengthAdjust="spacingAndGlyphs">2</text><text x="475.5" y="311.1" font-size="12" text-anchor="start" fill="#111" font-weight="bold" font-style="normal" textLength="16.6" lengthAdjust="spacingAndGlyphs">/s)</text>
<text x="605.2" y="310.8" font-size="12" text-anchor="start" fill="#111" font-weight="bold" font-style="normal" textLength="7.2" lengthAdjust="spacingAndGlyphs">λ</text>
<path d="M614.4 307V315.2M617.9 307V315.2" stroke="#111" stroke-width="1.2" fill="none"/>
<text x="624.4" y="311.1" font-size="12" text-anchor="start" fill="#111" font-weight="bold" font-style="normal" textLength="26" lengthAdjust="spacingAndGlyphs">(mm</text><text x="650.5" y="306.6" font-size="7.6" text-anchor="start" fill="#111" font-weight="bold" font-style="normal" textLength="5" lengthAdjust="spacingAndGlyphs">2</text><text x="655.7" y="311.1" font-size="12" text-anchor="start" fill="#111" font-weight="bold" font-style="normal" textLength="16.6" lengthAdjust="spacingAndGlyphs">/s)</text>
<text transform="translate(15.6 373) rotate(-90)" x="0" y="0" font-size="13.4" font-weight="bold" font-style="italic" text-anchor="middle" fill="#111" textLength="19" lengthAdjust="spacingAndGlyphs">acc</text>
<text transform="translate(16.8 485.5) rotate(-90)" x="0" y="0" font-size="13.4" font-weight="bold" font-style="italic" text-anchor="middle" fill="#111" textLength="23" lengthAdjust="spacingAndGlyphs">mcc</text>
<text transform="translate(15.5 594.6) rotate(-90)" x="0" y="0" font-size="13.4" font-weight="bold" font-style="italic" text-anchor="middle" fill="#111" textLength="44" lengthAdjust="spacingAndGlyphs">fimbria</text>
<text transform="translate(15.7 709.5) rotate(-90)" x="0" y="0" font-size="13.4" font-weight="bold" font-style="italic" text-anchor="middle" fill="#111" textLength="11" lengthAdjust="spacingAndGlyphs">ic</text>
<text transform="translate(16 815) rotate(-90)" x="0" y="0" font-size="13.4" font-weight="bold" font-style="italic" text-anchor="middle" fill="#111" textLength="30" lengthAdjust="spacingAndGlyphs">mctx</text>
<text x="1.8" y="311.5" font-size="26.5" text-anchor="start" fill="#000" font-weight="bold" font-style="normal" textLength="14.2" lengthAdjust="spacingAndGlyphs">b</text>
</svg></body></html>
